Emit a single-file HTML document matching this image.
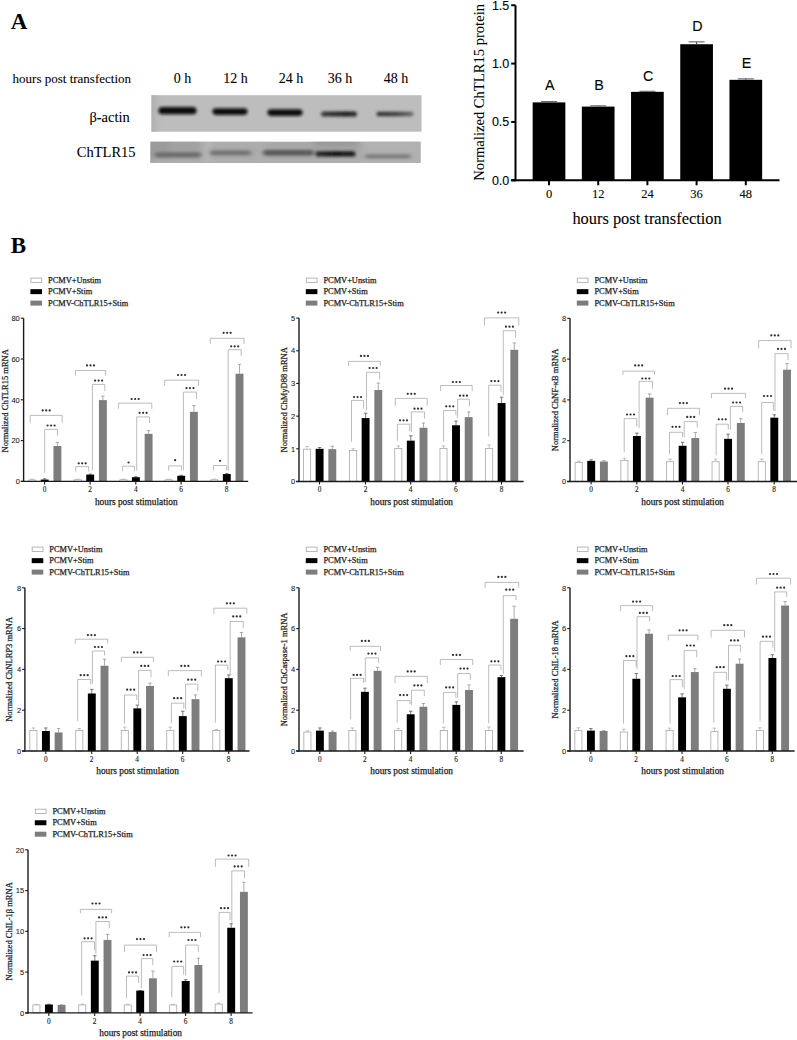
<!DOCTYPE html><html><head><meta charset="utf-8"><style>html,body{margin:0;padding:0;background:#fff;}body{width:797px;height:1040px;overflow:hidden;}svg{display:block;}</style></head><body><svg width="797" height="1040" viewBox="0 0 797 1040"><text x="10.8" y="28.6" font-family='"Liberation Serif", serif' font-size="23" text-anchor="start" font-weight="700" fill="#000">A</text><text x="10.8" y="252.6" font-family='"Liberation Serif", serif' font-size="23" text-anchor="start" font-weight="700" fill="#000">B</text><text x="12.6" y="83.3" font-family='"Liberation Serif", serif' font-size="13" text-anchor="start" font-weight="400" fill="#000" stroke="#000" stroke-width="0.08">hours post transfection</text><text x="182.4" y="83.3" font-family='"Liberation Serif", serif' font-size="14" text-anchor="middle" font-weight="400" fill="#000" stroke="#000" stroke-width="0.08">0 h</text><text x="235.5" y="83.3" font-family='"Liberation Serif", serif' font-size="14" text-anchor="middle" font-weight="400" fill="#000" stroke="#000" stroke-width="0.08">12 h</text><text x="291" y="83.3" font-family='"Liberation Serif", serif' font-size="14" text-anchor="middle" font-weight="400" fill="#000" stroke="#000" stroke-width="0.08">24 h</text><text x="340" y="83.3" font-family='"Liberation Serif", serif' font-size="14" text-anchor="middle" font-weight="400" fill="#000" stroke="#000" stroke-width="0.08">36 h</text><text x="396" y="83.3" font-family='"Liberation Serif", serif' font-size="14" text-anchor="middle" font-weight="400" fill="#000" stroke="#000" stroke-width="0.08">48 h</text><text x="129.8" y="122.4" font-family='"Liberation Serif", serif' font-size="14.5" text-anchor="end" font-weight="400" fill="#000" stroke="#000" stroke-width="0.08">&#946;-actin</text><text x="135.6" y="156.5" font-family='"Liberation Serif", serif' font-size="14.5" text-anchor="end" font-weight="400" fill="#000" stroke="#000" stroke-width="0.08">ChTLR15</text><defs><filter id="bl" x="-20%" y="-150%" width="140%" height="400%"><feGaussianBlur stdDeviation="1.5"/></filter><filter id="bl2" x="-50%" y="-50%" width="200%" height="200%"><feGaussianBlur stdDeviation="3"/></filter><filter id="bl3" x="-20%" y="-150%" width="140%" height="400%"><feGaussianBlur stdDeviation="2.1 1.7"/></filter><clipPath id="c1"><rect x="151.5" y="95.2" width="270" height="36.5"/></clipPath><clipPath id="c2"><rect x="150.5" y="141.7" width="270" height="21.2"/></clipPath><linearGradient id="g36" x1="0" x2="1"><stop offset="0" stop-color="#3a3a3a"/><stop offset="0.7" stop-color="#1a1a1a"/><stop offset="1" stop-color="#2a2a2a"/></linearGradient><linearGradient id="g48" x1="0" x2="1"><stop offset="0" stop-color="#2e2e2e"/><stop offset="0.5" stop-color="#3a3a3a"/><stop offset="1" stop-color="#6a6a6a"/></linearGradient><linearGradient id="t36" x1="0" x2="1"><stop offset="0" stop-color="#2a2a2a"/><stop offset="0.5" stop-color="#0e0e0e"/><stop offset="1" stop-color="#1c1c1c"/></linearGradient></defs><rect x="151.5" y="95.2" width="270" height="36.5" fill="#bdbdbd"/><g clip-path="url(#c1)"><g filter="url(#bl2)"><rect x="140" y="90" width="16" height="50" fill="#b0b0b0"/></g><g filter="url(#bl)"><rect x="158.5" y="107.1" width="38" height="7.2" rx="3.6" ry="3.6" fill="#0a0a0a"/><rect x="212.5" y="108.3" width="35" height="6.6" rx="3.3" ry="3.3" fill="#101010"/><rect x="267.5" y="109.3" width="35" height="6.6" rx="3.3" ry="3.3" fill="#101010"/><rect x="321" y="111.4" width="36" height="5.2" rx="2.6" ry="2.6" fill="url(#g36)"/><rect x="376.5" y="111.7" width="37" height="4.6" rx="2.3" ry="2.3" fill="url(#g48)"/></g></g><rect x="150.5" y="141.7" width="270" height="21.2" fill="#a8a8a8"/><g clip-path="url(#c2)"><g filter="url(#bl2)"><rect x="140" y="135" width="30" height="35" fill="#9b9b9b"/><rect x="170" y="135" width="30" height="35" fill="#a2a2a2"/><rect x="203" y="135" width="8" height="35" fill="#b6b6b6"/><rect x="211" y="141" width="50" height="5" fill="#b0b0b0"/><rect x="258" y="135" width="6" height="35" fill="#b0b0b0"/><rect x="314" y="135" width="44" height="11" fill="#959595"/><rect x="362" y="135" width="65" height="35" fill="#b1b1b1"/><rect x="150" y="159.5" width="275" height="10" fill="#b2b2b2"/></g><g filter="url(#bl3)"><rect x="155" y="152.2" width="46" height="5.2" rx="2.6" ry="2.6" fill="#6c6c6c"/><rect x="210" y="150.6" width="41" height="4.6" rx="2.3" ry="2.3" fill="#717171"/><rect x="263" y="150.1" width="51" height="5.4" rx="2.7" ry="2.7" fill="#585858"/><rect x="365" y="154.3" width="46" height="4.2" rx="2.1" ry="2.1" fill="#7a7a7a"/></g><g filter="url(#bl)"><rect x="315.5" y="151.3" width="40" height="5.2" rx="2.6" ry="2.6" fill="url(#t36)"/></g></g><line x1="515.5" y1="5.3" x2="515.5" y2="181.3" stroke="#000" stroke-width="2"/><line x1="511" y1="180.3" x2="779.5" y2="180.3" stroke="#000" stroke-width="2"/><line x1="511.2" y1="5.25" x2="515.5" y2="5.25" stroke="#000" stroke-width="2"/><text x="509.3" y="9.65" font-family='"Liberation Sans", sans-serif' font-size="12.5" text-anchor="end" font-weight="400" fill="#000" stroke="#000" stroke-width="0.08">1.5</text><line x1="511.2" y1="63.6" x2="515.5" y2="63.6" stroke="#000" stroke-width="2"/><text x="509.3" y="68" font-family='"Liberation Sans", sans-serif' font-size="12.5" text-anchor="end" font-weight="400" fill="#000" stroke="#000" stroke-width="0.08">1.0</text><line x1="511.2" y1="121.95" x2="515.5" y2="121.95" stroke="#000" stroke-width="2"/><text x="509.3" y="126.35" font-family='"Liberation Sans", sans-serif' font-size="12.5" text-anchor="end" font-weight="400" fill="#000" stroke="#000" stroke-width="0.08">0.5</text><line x1="511.2" y1="180.3" x2="515.5" y2="180.3" stroke="#000" stroke-width="2"/><text x="509.3" y="184.7" font-family='"Liberation Sans", sans-serif' font-size="12.5" text-anchor="end" font-weight="400" fill="#000" stroke="#000" stroke-width="0.08">0.0</text><rect x="532.65" y="102.4" width="32.7" height="77.9" fill="#000"/><line x1="549" y1="101.64" x2="549" y2="102.4" stroke="#444" stroke-width="1"/><line x1="541" y1="101.64" x2="557" y2="101.64" stroke="#555" stroke-width="1"/><line x1="549" y1="180.3" x2="549" y2="185.3" stroke="#000" stroke-width="2"/><text x="549.8" y="89.8" font-family='"Liberation Sans", sans-serif' font-size="14.3" text-anchor="middle" font-weight="400" fill="#000" stroke="#000" stroke-width="0.08">A</text><rect x="581.85" y="106.6" width="32.7" height="73.7" fill="#000"/><line x1="598.2" y1="105.85" x2="598.2" y2="106.6" stroke="#444" stroke-width="1"/><line x1="590.2" y1="105.85" x2="606.2" y2="105.85" stroke="#555" stroke-width="1"/><line x1="598.2" y1="180.3" x2="598.2" y2="185.3" stroke="#000" stroke-width="2"/><text x="599" y="90" font-family='"Liberation Sans", sans-serif' font-size="14.3" text-anchor="middle" font-weight="400" fill="#000" stroke="#000" stroke-width="0.08">B</text><rect x="631.05" y="91.84" width="32.7" height="88.46" fill="#000"/><line x1="647.4" y1="91.26" x2="647.4" y2="91.84" stroke="#444" stroke-width="1"/><line x1="639.4" y1="91.26" x2="655.4" y2="91.26" stroke="#555" stroke-width="1"/><line x1="647.4" y1="180.3" x2="647.4" y2="185.3" stroke="#000" stroke-width="2"/><text x="648.2" y="80.5" font-family='"Liberation Sans", sans-serif' font-size="14.3" text-anchor="middle" font-weight="400" fill="#000" stroke="#000" stroke-width="0.08">C</text><rect x="680.25" y="44.23" width="32.7" height="136.07" fill="#000"/><line x1="696.6" y1="41.89" x2="696.6" y2="44.23" stroke="#444" stroke-width="1"/><line x1="688.6" y1="41.89" x2="704.6" y2="41.89" stroke="#555" stroke-width="1"/><line x1="696.6" y1="180.3" x2="696.6" y2="185.3" stroke="#000" stroke-width="2"/><text x="697.4" y="30.8" font-family='"Liberation Sans", sans-serif' font-size="14.3" text-anchor="middle" font-weight="400" fill="#000" stroke="#000" stroke-width="0.08">D</text><rect x="729.45" y="79.82" width="32.7" height="100.48" fill="#000"/><line x1="745.8" y1="78.89" x2="745.8" y2="79.82" stroke="#444" stroke-width="1"/><line x1="737.8" y1="78.89" x2="753.8" y2="78.89" stroke="#555" stroke-width="1"/><line x1="745.8" y1="180.3" x2="745.8" y2="185.3" stroke="#000" stroke-width="2"/><text x="746.6" y="67.9" font-family='"Liberation Sans", sans-serif' font-size="14.3" text-anchor="middle" font-weight="400" fill="#000" stroke="#000" stroke-width="0.08">E</text><text x="549" y="198.4" font-family='"Liberation Serif", serif' font-size="12.5" text-anchor="middle" font-weight="400" fill="#000" stroke="#000" stroke-width="0.08">0</text><text x="598.2" y="198.4" font-family='"Liberation Serif", serif' font-size="12.5" text-anchor="middle" font-weight="400" fill="#000" stroke="#000" stroke-width="0.08">12</text><text x="647.4" y="198.4" font-family='"Liberation Serif", serif' font-size="12.5" text-anchor="middle" font-weight="400" fill="#000" stroke="#000" stroke-width="0.08">24</text><text x="696.6" y="198.4" font-family='"Liberation Serif", serif' font-size="12.5" text-anchor="middle" font-weight="400" fill="#000" stroke="#000" stroke-width="0.08">36</text><text x="745.8" y="198.4" font-family='"Liberation Serif", serif' font-size="12.5" text-anchor="middle" font-weight="400" fill="#000" stroke="#000" stroke-width="0.08">48</text><text x="572.4" y="223.8" font-family='"Liberation Serif", serif' font-size="16.4" text-anchor="start" font-weight="400" fill="#000" stroke="#000" stroke-width="0.08">hours post transfection</text><text x="483.8" y="180.7" font-family='"Liberation Serif", serif' font-size="14.6" text-anchor="start" font-weight="400" fill="#000" stroke="#000" stroke-width="0.08" transform="rotate(-90 483.8 180.7)">Normalized ChTLR15 protein</text><rect x="30.9" y="278.1" width="10.8" height="4.3" fill="#fff" stroke="#b0b0b0" stroke-width="0.9"/><text x="48" y="282.7" font-family='"Liberation Serif", serif' font-size="8.4" text-anchor="start" font-weight="400" fill="#1e1e1e" stroke="#1e1e1e" stroke-width="0.25">PCMV+Unstim</text><rect x="30.4" y="289.15" width="11.6" height="5" fill="#000"/><text x="48" y="294.15" font-family='"Liberation Serif", serif' font-size="8.4" text-anchor="start" font-weight="400" fill="#1e1e1e" stroke="#1e1e1e" stroke-width="0.25">PCMV+Stim</text><rect x="30.4" y="300.6" width="11.6" height="5" fill="#7d7d7d"/><text x="48" y="305.6" font-family='"Liberation Serif", serif' font-size="8.4" text-anchor="start" font-weight="400" fill="#1e1e1e" stroke="#1e1e1e" stroke-width="0.25">PCMV-ChTLR15+Stim</text><line x1="32.2" y1="479.16" x2="32.2" y2="479.56" stroke="#9a9a9a" stroke-width="0.6"/><line x1="30.5" y1="479.16" x2="33.9" y2="479.16" stroke="#9a9a9a" stroke-width="0.6"/><rect x="28.65" y="479.96" width="7.1" height="1.44" fill="#fff" stroke="#a8a8a8" stroke-width="0.8"/><line x1="44.7" y1="478.75" x2="44.7" y2="479.56" stroke="#444" stroke-width="0.7"/><line x1="43" y1="478.75" x2="46.4" y2="478.75" stroke="#444" stroke-width="0.7"/><rect x="40.75" y="479.56" width="7.9" height="1.84" fill="#000"/><line x1="57.4" y1="442.44" x2="57.4" y2="446.01" stroke="#8a8a8a" stroke-width="0.7"/><line x1="55.7" y1="442.44" x2="59.1" y2="442.44" stroke="#8a8a8a" stroke-width="0.7"/><rect x="53.45" y="446.01" width="7.9" height="35.39" fill="#7d7d7d"/><path d="M44.7 472.7V429.4H57.5V435.5" fill="none" stroke="#999999" stroke-width="0.65"/><circle cx="47.6" cy="425.5" r="1.12" fill="#303030"/><circle cx="51.1" cy="425.5" r="1.12" fill="#303030"/><circle cx="54.6" cy="425.5" r="1.12" fill="#303030"/><path d="M30.2 422.9V415.4H62.2V422.9" fill="none" stroke="#999999" stroke-width="0.65"/><circle cx="42.7" cy="410.4" r="1.12" fill="#303030"/><circle cx="46.2" cy="410.4" r="1.12" fill="#303030"/><circle cx="49.7" cy="410.4" r="1.12" fill="#303030"/><line x1="77.7" y1="479.16" x2="77.7" y2="479.36" stroke="#9a9a9a" stroke-width="0.6"/><line x1="76" y1="479.16" x2="79.4" y2="479.16" stroke="#9a9a9a" stroke-width="0.6"/><rect x="74.15" y="479.76" width="7.1" height="1.64" fill="#fff" stroke="#a8a8a8" stroke-width="0.8"/><line x1="90.2" y1="474.06" x2="90.2" y2="474.61" stroke="#444" stroke-width="0.7"/><line x1="88.5" y1="474.06" x2="91.9" y2="474.06" stroke="#444" stroke-width="0.7"/><rect x="86.25" y="474.61" width="7.9" height="6.79" fill="#000"/><line x1="102.9" y1="396.13" x2="102.9" y2="400.11" stroke="#8a8a8a" stroke-width="0.7"/><line x1="101.2" y1="396.13" x2="104.6" y2="396.13" stroke="#8a8a8a" stroke-width="0.7"/><rect x="98.95" y="400.11" width="7.9" height="81.29" fill="#7d7d7d"/><path d="M75.7 471.5V466.6H88.7V471.5" fill="none" stroke="#999999" stroke-width="0.65"/><circle cx="78.7" cy="463.3" r="1.12" fill="#303030"/><circle cx="82.2" cy="463.3" r="1.12" fill="#303030"/><circle cx="85.7" cy="463.3" r="1.12" fill="#303030"/><path d="M92.4 470.6V384.4H104.8V391" fill="none" stroke="#999999" stroke-width="0.65"/><circle cx="95.1" cy="380.6" r="1.12" fill="#303030"/><circle cx="98.6" cy="380.6" r="1.12" fill="#303030"/><circle cx="102.1" cy="380.6" r="1.12" fill="#303030"/><path d="M75.4 375.7V370.5H105.7V375.7" fill="none" stroke="#999999" stroke-width="0.65"/><circle cx="87.05" cy="365.4" r="1.12" fill="#303030"/><circle cx="90.55" cy="365.4" r="1.12" fill="#303030"/><circle cx="94.05" cy="365.4" r="1.12" fill="#303030"/><line x1="123.4" y1="479.16" x2="123.4" y2="479.36" stroke="#9a9a9a" stroke-width="0.6"/><line x1="121.7" y1="479.16" x2="125.1" y2="479.16" stroke="#9a9a9a" stroke-width="0.6"/><rect x="119.85" y="479.76" width="7.1" height="1.64" fill="#fff" stroke="#a8a8a8" stroke-width="0.8"/><line x1="135.9" y1="476.71" x2="135.9" y2="477.2" stroke="#444" stroke-width="0.7"/><line x1="134.2" y1="476.71" x2="137.6" y2="476.71" stroke="#444" stroke-width="0.7"/><rect x="131.95" y="477.2" width="7.9" height="4.2" fill="#000"/><line x1="148.6" y1="430.6" x2="148.6" y2="433.87" stroke="#8a8a8a" stroke-width="0.7"/><line x1="146.9" y1="430.6" x2="150.3" y2="430.6" stroke="#8a8a8a" stroke-width="0.7"/><rect x="144.65" y="433.87" width="7.9" height="47.53" fill="#7d7d7d"/><path d="M122.6 471.1V466.2H134.5V471.1" fill="none" stroke="#999999" stroke-width="0.65"/><circle cx="128.55" cy="462.5" r="1.12" fill="#303030"/><path d="M136.7 470.6V416.9H149.5V423.1" fill="none" stroke="#999999" stroke-width="0.65"/><circle cx="139.6" cy="412.8" r="1.12" fill="#303030"/><circle cx="143.1" cy="412.8" r="1.12" fill="#303030"/><circle cx="146.6" cy="412.8" r="1.12" fill="#303030"/><path d="M118.5 408.8V403.2H151.8V408.8" fill="none" stroke="#999999" stroke-width="0.65"/><circle cx="131.65" cy="399" r="1.12" fill="#303030"/><circle cx="135.15" cy="399" r="1.12" fill="#303030"/><circle cx="138.65" cy="399" r="1.12" fill="#303030"/><line x1="168.7" y1="479.16" x2="168.7" y2="479.36" stroke="#9a9a9a" stroke-width="0.6"/><line x1="167" y1="479.16" x2="170.4" y2="479.16" stroke="#9a9a9a" stroke-width="0.6"/><rect x="165.15" y="479.76" width="7.1" height="1.64" fill="#fff" stroke="#a8a8a8" stroke-width="0.8"/><line x1="181.2" y1="475.28" x2="181.2" y2="475.79" stroke="#444" stroke-width="0.7"/><line x1="179.5" y1="475.28" x2="182.9" y2="475.28" stroke="#444" stroke-width="0.7"/><rect x="177.25" y="475.79" width="7.9" height="5.61" fill="#000"/><line x1="193.9" y1="405.51" x2="193.9" y2="411.84" stroke="#8a8a8a" stroke-width="0.7"/><line x1="192.2" y1="405.51" x2="195.6" y2="405.51" stroke="#8a8a8a" stroke-width="0.7"/><rect x="189.95" y="411.84" width="7.9" height="69.56" fill="#7d7d7d"/><path d="M168.7 470.5V465.9H181.5V470.5" fill="none" stroke="#999999" stroke-width="0.65"/><circle cx="175.1" cy="460.2" r="1.12" fill="#303030"/><path d="M183.4 470.5V392.1H196.6V399" fill="none" stroke="#999999" stroke-width="0.65"/><circle cx="186.5" cy="388.1" r="1.12" fill="#303030"/><circle cx="190" cy="388.1" r="1.12" fill="#303030"/><circle cx="193.5" cy="388.1" r="1.12" fill="#303030"/><path d="M164.6 385.9V380.2H198.5V385.9" fill="none" stroke="#999999" stroke-width="0.65"/><circle cx="178.05" cy="375" r="1.12" fill="#303030"/><circle cx="181.55" cy="375" r="1.12" fill="#303030"/><circle cx="185.05" cy="375" r="1.12" fill="#303030"/><line x1="214.3" y1="479.16" x2="214.3" y2="479.36" stroke="#9a9a9a" stroke-width="0.6"/><line x1="212.6" y1="479.16" x2="216" y2="479.16" stroke="#9a9a9a" stroke-width="0.6"/><rect x="210.75" y="479.76" width="7.1" height="1.64" fill="#fff" stroke="#a8a8a8" stroke-width="0.8"/><line x1="226.8" y1="473.44" x2="226.8" y2="474.06" stroke="#444" stroke-width="0.7"/><line x1="225.1" y1="473.44" x2="228.5" y2="473.44" stroke="#444" stroke-width="0.7"/><rect x="222.85" y="474.06" width="7.9" height="7.34" fill="#000"/><line x1="239.5" y1="364.3" x2="239.5" y2="373.69" stroke="#8a8a8a" stroke-width="0.7"/><line x1="237.8" y1="364.3" x2="241.2" y2="364.3" stroke="#8a8a8a" stroke-width="0.7"/><rect x="235.55" y="373.69" width="7.9" height="107.71" fill="#7d7d7d"/><path d="M213.5 470.5V465.5H226.7V470.5" fill="none" stroke="#999999" stroke-width="0.65"/><circle cx="220.1" cy="460.8" r="1.12" fill="#303030"/><path d="M228.2 470.6V349.7H241.2V355.8" fill="none" stroke="#999999" stroke-width="0.65"/><circle cx="231.2" cy="346.3" r="1.12" fill="#303030"/><circle cx="234.7" cy="346.3" r="1.12" fill="#303030"/><circle cx="238.2" cy="346.3" r="1.12" fill="#303030"/><path d="M210.3 343.9V338.3H244V343.9" fill="none" stroke="#999999" stroke-width="0.65"/><circle cx="223.65" cy="332.8" r="1.12" fill="#303030"/><circle cx="227.15" cy="332.8" r="1.12" fill="#303030"/><circle cx="230.65" cy="332.8" r="1.12" fill="#303030"/><line x1="23.6" y1="318.2" x2="23.6" y2="482" stroke="#1a1a1a" stroke-width="1.4"/><line x1="20.8" y1="481.4" x2="248.2" y2="481.4" stroke="#1a1a1a" stroke-width="1.3"/><line x1="20.8" y1="481.4" x2="23.6" y2="481.4" stroke="#1a1a1a" stroke-width="1.1"/><text x="19.8" y="484.1" font-family='"Liberation Sans", sans-serif' font-size="7.5" text-anchor="end" font-weight="400" fill="#222" stroke="#222" stroke-width="0.08">0</text><line x1="20.8" y1="440.6" x2="23.6" y2="440.6" stroke="#1a1a1a" stroke-width="1.1"/><text x="19.8" y="443.3" font-family='"Liberation Sans", sans-serif' font-size="7.5" text-anchor="end" font-weight="400" fill="#222" stroke="#222" stroke-width="0.08">20</text><line x1="20.8" y1="399.8" x2="23.6" y2="399.8" stroke="#1a1a1a" stroke-width="1.1"/><text x="19.8" y="402.5" font-family='"Liberation Sans", sans-serif' font-size="7.5" text-anchor="end" font-weight="400" fill="#222" stroke="#222" stroke-width="0.08">40</text><line x1="20.8" y1="359" x2="23.6" y2="359" stroke="#1a1a1a" stroke-width="1.1"/><text x="19.8" y="361.7" font-family='"Liberation Sans", sans-serif' font-size="7.5" text-anchor="end" font-weight="400" fill="#222" stroke="#222" stroke-width="0.08">60</text><line x1="20.8" y1="318.2" x2="23.6" y2="318.2" stroke="#1a1a1a" stroke-width="1.1"/><text x="19.8" y="320.9" font-family='"Liberation Sans", sans-serif' font-size="7.5" text-anchor="end" font-weight="400" fill="#222" stroke="#222" stroke-width="0.08">80</text><line x1="44.6" y1="481.4" x2="44.6" y2="484.4" stroke="#1a1a1a" stroke-width="1.1"/><text x="44.6" y="492.2" font-family='"Liberation Serif", serif' font-size="7.3" text-anchor="middle" font-weight="400" fill="#222" stroke="#222" stroke-width="0.12">0</text><line x1="90.1" y1="481.4" x2="90.1" y2="484.4" stroke="#1a1a1a" stroke-width="1.1"/><text x="90.1" y="492.2" font-family='"Liberation Serif", serif' font-size="7.3" text-anchor="middle" font-weight="400" fill="#222" stroke="#222" stroke-width="0.12">2</text><line x1="135.8" y1="481.4" x2="135.8" y2="484.4" stroke="#1a1a1a" stroke-width="1.1"/><text x="135.8" y="492.2" font-family='"Liberation Serif", serif' font-size="7.3" text-anchor="middle" font-weight="400" fill="#222" stroke="#222" stroke-width="0.12">4</text><line x1="181.1" y1="481.4" x2="181.1" y2="484.4" stroke="#1a1a1a" stroke-width="1.1"/><text x="181.1" y="492.2" font-family='"Liberation Serif", serif' font-size="7.3" text-anchor="middle" font-weight="400" fill="#222" stroke="#222" stroke-width="0.12">6</text><line x1="226.7" y1="481.4" x2="226.7" y2="484.4" stroke="#1a1a1a" stroke-width="1.1"/><text x="226.7" y="492.2" font-family='"Liberation Serif", serif' font-size="7.3" text-anchor="middle" font-weight="400" fill="#222" stroke="#222" stroke-width="0.12">8</text><text x="136.3" y="504.5" font-family='"Liberation Serif", serif' font-size="9.3" text-anchor="middle" font-weight="400" fill="#222" stroke="#222" stroke-width="0.25">hours post stimulation</text><text x="8" y="400.8" font-family='"Liberation Serif", serif' font-size="8.5" text-anchor="middle" font-weight="400" fill="#222" stroke="#222" stroke-width="0.25" transform="rotate(-90 8 400.8)">Normalized ChTLR15 mRNA</text><rect x="306.3" y="278.1" width="10.8" height="4.3" fill="#fff" stroke="#b0b0b0" stroke-width="0.9"/><text x="323.4" y="282.7" font-family='"Liberation Serif", serif' font-size="8.4" text-anchor="start" font-weight="400" fill="#1e1e1e" stroke="#1e1e1e" stroke-width="0.25">PCMV+Unstim</text><rect x="305.8" y="289.15" width="11.6" height="5" fill="#000"/><text x="323.4" y="294.15" font-family='"Liberation Serif", serif' font-size="8.4" text-anchor="start" font-weight="400" fill="#1e1e1e" stroke="#1e1e1e" stroke-width="0.25">PCMV+Stim</text><rect x="305.8" y="300.6" width="11.6" height="5" fill="#7d7d7d"/><text x="323.4" y="305.6" font-family='"Liberation Serif", serif' font-size="8.4" text-anchor="start" font-weight="400" fill="#1e1e1e" stroke="#1e1e1e" stroke-width="0.25">PCMV-ChTLR15+Stim</text><line x1="307.1" y1="446.53" x2="307.1" y2="448.82" stroke="#9a9a9a" stroke-width="0.6"/><line x1="305.4" y1="446.53" x2="308.8" y2="446.53" stroke="#9a9a9a" stroke-width="0.6"/><rect x="303.55" y="449.22" width="7.1" height="32.28" fill="#fff" stroke="#a8a8a8" stroke-width="0.8"/><line x1="319.6" y1="447.51" x2="319.6" y2="448.82" stroke="#444" stroke-width="0.7"/><line x1="317.9" y1="447.51" x2="321.3" y2="447.51" stroke="#444" stroke-width="0.7"/><rect x="315.65" y="448.82" width="7.9" height="32.68" fill="#000"/><line x1="332.3" y1="446.21" x2="332.3" y2="449.15" stroke="#8a8a8a" stroke-width="0.7"/><line x1="330.6" y1="446.21" x2="334" y2="446.21" stroke="#8a8a8a" stroke-width="0.7"/><rect x="328.35" y="449.15" width="7.9" height="32.35" fill="#7d7d7d"/><line x1="353.1" y1="448.82" x2="353.1" y2="450.13" stroke="#9a9a9a" stroke-width="0.6"/><line x1="351.4" y1="448.82" x2="354.8" y2="448.82" stroke="#9a9a9a" stroke-width="0.6"/><rect x="349.55" y="450.53" width="7.1" height="30.97" fill="#fff" stroke="#a8a8a8" stroke-width="0.8"/><line x1="365.6" y1="413.2" x2="365.6" y2="418.1" stroke="#444" stroke-width="0.7"/><line x1="363.9" y1="413.2" x2="367.3" y2="413.2" stroke="#444" stroke-width="0.7"/><rect x="361.65" y="418.1" width="7.9" height="63.4" fill="#000"/><line x1="378.3" y1="383.13" x2="378.3" y2="390" stroke="#8a8a8a" stroke-width="0.7"/><line x1="376.6" y1="383.13" x2="380" y2="383.13" stroke="#8a8a8a" stroke-width="0.7"/><rect x="374.35" y="390" width="7.9" height="91.5" fill="#7d7d7d"/><path d="M351.5 441.6V400.4H363.6V408.7" fill="none" stroke="#999999" stroke-width="0.65"/><circle cx="354.05" cy="397" r="1.12" fill="#303030"/><circle cx="357.55" cy="397" r="1.12" fill="#303030"/><circle cx="361.05" cy="397" r="1.12" fill="#303030"/><path d="M366.5 410.4V372.3H379.7V379.3" fill="none" stroke="#999999" stroke-width="0.65"/><circle cx="369.6" cy="368" r="1.12" fill="#303030"/><circle cx="373.1" cy="368" r="1.12" fill="#303030"/><circle cx="376.6" cy="368" r="1.12" fill="#303030"/><path d="M348.5 365.8V361.4H380.4V365.8" fill="none" stroke="#999999" stroke-width="0.65"/><circle cx="360.95" cy="355.9" r="1.12" fill="#303030"/><circle cx="364.45" cy="355.9" r="1.12" fill="#303030"/><circle cx="367.95" cy="355.9" r="1.12" fill="#303030"/><line x1="398.3" y1="445.88" x2="398.3" y2="448.17" stroke="#9a9a9a" stroke-width="0.6"/><line x1="396.6" y1="445.88" x2="400" y2="445.88" stroke="#9a9a9a" stroke-width="0.6"/><rect x="394.75" y="448.57" width="7.1" height="32.93" fill="#fff" stroke="#a8a8a8" stroke-width="0.8"/><line x1="410.8" y1="435.75" x2="410.8" y2="440.65" stroke="#444" stroke-width="0.7"/><line x1="409.1" y1="435.75" x2="412.5" y2="435.75" stroke="#444" stroke-width="0.7"/><rect x="406.85" y="440.65" width="7.9" height="40.85" fill="#000"/><line x1="423.5" y1="423" x2="423.5" y2="427.74" stroke="#8a8a8a" stroke-width="0.7"/><line x1="421.8" y1="423" x2="425.2" y2="423" stroke="#8a8a8a" stroke-width="0.7"/><rect x="419.55" y="427.74" width="7.9" height="53.76" fill="#7d7d7d"/><path d="M397.4 440.9V424.2H409.7V431.2" fill="none" stroke="#999999" stroke-width="0.65"/><circle cx="400.05" cy="420.3" r="1.12" fill="#303030"/><circle cx="403.55" cy="420.3" r="1.12" fill="#303030"/><circle cx="407.05" cy="420.3" r="1.12" fill="#303030"/><path d="M411.4 432V411.9H424.6V418.6" fill="none" stroke="#999999" stroke-width="0.65"/><circle cx="414.5" cy="408.7" r="1.12" fill="#303030"/><circle cx="418" cy="408.7" r="1.12" fill="#303030"/><circle cx="421.5" cy="408.7" r="1.12" fill="#303030"/><path d="M395.3 405.7V398.4H427.2V405.7" fill="none" stroke="#999999" stroke-width="0.65"/><circle cx="407.75" cy="393.8" r="1.12" fill="#303030"/><circle cx="411.25" cy="393.8" r="1.12" fill="#303030"/><circle cx="414.75" cy="393.8" r="1.12" fill="#303030"/><line x1="443.5" y1="445.88" x2="443.5" y2="448.17" stroke="#9a9a9a" stroke-width="0.6"/><line x1="441.8" y1="445.88" x2="445.2" y2="445.88" stroke="#9a9a9a" stroke-width="0.6"/><rect x="439.95" y="448.57" width="7.1" height="32.93" fill="#fff" stroke="#a8a8a8" stroke-width="0.8"/><line x1="456" y1="421.04" x2="456" y2="425.29" stroke="#444" stroke-width="0.7"/><line x1="454.3" y1="421.04" x2="457.7" y2="421.04" stroke="#444" stroke-width="0.7"/><rect x="452.05" y="425.29" width="7.9" height="56.21" fill="#000"/><line x1="468.7" y1="411.89" x2="468.7" y2="417.12" stroke="#8a8a8a" stroke-width="0.7"/><line x1="467" y1="411.89" x2="470.4" y2="411.89" stroke="#8a8a8a" stroke-width="0.7"/><rect x="464.75" y="417.12" width="7.9" height="64.38" fill="#7d7d7d"/><path d="M443.6 441.7V410.5H455.9V415.4" fill="none" stroke="#999999" stroke-width="0.65"/><circle cx="446.25" cy="406.3" r="1.12" fill="#303030"/><circle cx="449.75" cy="406.3" r="1.12" fill="#303030"/><circle cx="453.25" cy="406.3" r="1.12" fill="#303030"/><path d="M457.6 418V399.2H469.4V406.3" fill="none" stroke="#999999" stroke-width="0.65"/><circle cx="460" cy="395.7" r="1.12" fill="#303030"/><circle cx="463.5" cy="395.7" r="1.12" fill="#303030"/><circle cx="467" cy="395.7" r="1.12" fill="#303030"/><path d="M440.6 391.2V385.5H472.2V391.2" fill="none" stroke="#999999" stroke-width="0.65"/><circle cx="452.9" cy="382" r="1.12" fill="#303030"/><circle cx="456.4" cy="382" r="1.12" fill="#303030"/><circle cx="459.9" cy="382" r="1.12" fill="#303030"/><line x1="489.1" y1="444.9" x2="489.1" y2="448.17" stroke="#9a9a9a" stroke-width="0.6"/><line x1="487.4" y1="444.9" x2="490.8" y2="444.9" stroke="#9a9a9a" stroke-width="0.6"/><rect x="485.55" y="448.57" width="7.1" height="32.93" fill="#fff" stroke="#a8a8a8" stroke-width="0.8"/><line x1="501.6" y1="397.19" x2="501.6" y2="403.07" stroke="#444" stroke-width="0.7"/><line x1="499.9" y1="397.19" x2="503.3" y2="397.19" stroke="#444" stroke-width="0.7"/><rect x="497.65" y="403.07" width="7.9" height="78.43" fill="#000"/><line x1="514.3" y1="342.94" x2="514.3" y2="349.8" stroke="#8a8a8a" stroke-width="0.7"/><line x1="512.6" y1="342.94" x2="516" y2="342.94" stroke="#8a8a8a" stroke-width="0.7"/><rect x="510.35" y="349.8" width="7.9" height="131.7" fill="#7d7d7d"/><path d="M488.7 436.5V385.2H501V391.7" fill="none" stroke="#999999" stroke-width="0.65"/><circle cx="491.35" cy="381.1" r="1.12" fill="#303030"/><circle cx="494.85" cy="381.1" r="1.12" fill="#303030"/><circle cx="498.35" cy="381.1" r="1.12" fill="#303030"/><path d="M503.3 395.2V330.7H515.6V337.8" fill="none" stroke="#999999" stroke-width="0.65"/><circle cx="505.95" cy="326.7" r="1.12" fill="#303030"/><circle cx="509.45" cy="326.7" r="1.12" fill="#303030"/><circle cx="512.95" cy="326.7" r="1.12" fill="#303030"/><path d="M484.5 325.5V317.9H518.8V325.5" fill="none" stroke="#999999" stroke-width="0.65"/><circle cx="498.15" cy="312.6" r="1.12" fill="#303030"/><circle cx="501.65" cy="312.6" r="1.12" fill="#303030"/><circle cx="505.15" cy="312.6" r="1.12" fill="#303030"/><line x1="299" y1="318.1" x2="299" y2="482.1" stroke="#1a1a1a" stroke-width="1.4"/><line x1="296.2" y1="481.5" x2="523.6" y2="481.5" stroke="#1a1a1a" stroke-width="1.3"/><line x1="296.2" y1="481.5" x2="299" y2="481.5" stroke="#1a1a1a" stroke-width="1.1"/><text x="295.2" y="484.2" font-family='"Liberation Sans", sans-serif' font-size="7.5" text-anchor="end" font-weight="400" fill="#222" stroke="#222" stroke-width="0.08">0</text><line x1="296.2" y1="448.82" x2="299" y2="448.82" stroke="#1a1a1a" stroke-width="1.1"/><text x="295.2" y="451.52" font-family='"Liberation Sans", sans-serif' font-size="7.5" text-anchor="end" font-weight="400" fill="#222" stroke="#222" stroke-width="0.08">1</text><line x1="296.2" y1="416.14" x2="299" y2="416.14" stroke="#1a1a1a" stroke-width="1.1"/><text x="295.2" y="418.84" font-family='"Liberation Sans", sans-serif' font-size="7.5" text-anchor="end" font-weight="400" fill="#222" stroke="#222" stroke-width="0.08">2</text><line x1="296.2" y1="383.46" x2="299" y2="383.46" stroke="#1a1a1a" stroke-width="1.1"/><text x="295.2" y="386.16" font-family='"Liberation Sans", sans-serif' font-size="7.5" text-anchor="end" font-weight="400" fill="#222" stroke="#222" stroke-width="0.08">3</text><line x1="296.2" y1="350.78" x2="299" y2="350.78" stroke="#1a1a1a" stroke-width="1.1"/><text x="295.2" y="353.48" font-family='"Liberation Sans", sans-serif' font-size="7.5" text-anchor="end" font-weight="400" fill="#222" stroke="#222" stroke-width="0.08">4</text><line x1="296.2" y1="318.1" x2="299" y2="318.1" stroke="#1a1a1a" stroke-width="1.1"/><text x="295.2" y="320.8" font-family='"Liberation Sans", sans-serif' font-size="7.5" text-anchor="end" font-weight="400" fill="#222" stroke="#222" stroke-width="0.08">5</text><line x1="319.5" y1="481.5" x2="319.5" y2="484.5" stroke="#1a1a1a" stroke-width="1.1"/><text x="319.5" y="492.3" font-family='"Liberation Serif", serif' font-size="7.3" text-anchor="middle" font-weight="400" fill="#222" stroke="#222" stroke-width="0.12">0</text><line x1="365.5" y1="481.5" x2="365.5" y2="484.5" stroke="#1a1a1a" stroke-width="1.1"/><text x="365.5" y="492.3" font-family='"Liberation Serif", serif' font-size="7.3" text-anchor="middle" font-weight="400" fill="#222" stroke="#222" stroke-width="0.12">2</text><line x1="410.7" y1="481.5" x2="410.7" y2="484.5" stroke="#1a1a1a" stroke-width="1.1"/><text x="410.7" y="492.3" font-family='"Liberation Serif", serif' font-size="7.3" text-anchor="middle" font-weight="400" fill="#222" stroke="#222" stroke-width="0.12">4</text><line x1="455.9" y1="481.5" x2="455.9" y2="484.5" stroke="#1a1a1a" stroke-width="1.1"/><text x="455.9" y="492.3" font-family='"Liberation Serif", serif' font-size="7.3" text-anchor="middle" font-weight="400" fill="#222" stroke="#222" stroke-width="0.12">6</text><line x1="501.5" y1="481.5" x2="501.5" y2="484.5" stroke="#1a1a1a" stroke-width="1.1"/><text x="501.5" y="492.3" font-family='"Liberation Serif", serif' font-size="7.3" text-anchor="middle" font-weight="400" fill="#222" stroke="#222" stroke-width="0.12">8</text><text x="411.7" y="504.6" font-family='"Liberation Serif", serif' font-size="9.3" text-anchor="middle" font-weight="400" fill="#222" stroke="#222" stroke-width="0.25">hours post stimulation</text><text x="286.6" y="399.8" font-family='"Liberation Serif", serif' font-size="8.5" text-anchor="middle" font-weight="400" fill="#222" stroke="#222" stroke-width="0.25" transform="rotate(-90 286.6 399.8)">Normalized ChMyD88 mRNA</text><rect x="577.3" y="278.1" width="10.8" height="4.3" fill="#fff" stroke="#b0b0b0" stroke-width="0.9"/><text x="594.4" y="282.7" font-family='"Liberation Serif", serif' font-size="8.4" text-anchor="start" font-weight="400" fill="#1e1e1e" stroke="#1e1e1e" stroke-width="0.25">PCMV+Unstim</text><rect x="576.8" y="289.15" width="11.6" height="5" fill="#000"/><text x="594.4" y="294.15" font-family='"Liberation Serif", serif' font-size="8.4" text-anchor="start" font-weight="400" fill="#1e1e1e" stroke="#1e1e1e" stroke-width="0.25">PCMV+Stim</text><rect x="576.8" y="300.6" width="11.6" height="5" fill="#7d7d7d"/><text x="594.4" y="305.6" font-family='"Liberation Serif", serif' font-size="8.4" text-anchor="start" font-weight="400" fill="#1e1e1e" stroke="#1e1e1e" stroke-width="0.25">PCMV-ChTLR15+Stim</text><line x1="578.7" y1="461.3" x2="578.7" y2="461.92" stroke="#9a9a9a" stroke-width="0.6"/><line x1="577" y1="461.3" x2="580.4" y2="461.3" stroke="#9a9a9a" stroke-width="0.6"/><rect x="575.15" y="462.32" width="7.1" height="19.18" fill="#fff" stroke="#a8a8a8" stroke-width="0.8"/><line x1="591.2" y1="459.88" x2="591.2" y2="460.9" stroke="#444" stroke-width="0.7"/><line x1="589.5" y1="459.88" x2="592.9" y2="459.88" stroke="#444" stroke-width="0.7"/><rect x="587.25" y="460.9" width="7.9" height="20.6" fill="#000"/><line x1="603.9" y1="460.49" x2="603.9" y2="461.51" stroke="#8a8a8a" stroke-width="0.7"/><line x1="602.2" y1="460.49" x2="605.6" y2="460.49" stroke="#8a8a8a" stroke-width="0.7"/><rect x="599.95" y="461.51" width="7.9" height="19.99" fill="#7d7d7d"/><line x1="624.4" y1="458.24" x2="624.4" y2="460.08" stroke="#9a9a9a" stroke-width="0.6"/><line x1="622.7" y1="458.24" x2="626.1" y2="458.24" stroke="#9a9a9a" stroke-width="0.6"/><rect x="620.85" y="460.48" width="7.1" height="21.02" fill="#fff" stroke="#a8a8a8" stroke-width="0.8"/><line x1="636.9" y1="433.15" x2="636.9" y2="436.01" stroke="#444" stroke-width="0.7"/><line x1="635.2" y1="433.15" x2="638.6" y2="433.15" stroke="#444" stroke-width="0.7"/><rect x="632.95" y="436.01" width="7.9" height="45.49" fill="#000"/><line x1="649.6" y1="393.98" x2="649.6" y2="397.66" stroke="#8a8a8a" stroke-width="0.7"/><line x1="647.9" y1="393.98" x2="651.3" y2="393.98" stroke="#8a8a8a" stroke-width="0.7"/><rect x="645.65" y="397.66" width="7.9" height="83.84" fill="#7d7d7d"/><path d="M624.2 452.4V418.6H636.8V426.3" fill="none" stroke="#999999" stroke-width="0.65"/><circle cx="627" cy="414.5" r="1.12" fill="#303030"/><circle cx="630.5" cy="414.5" r="1.12" fill="#303030"/><circle cx="634" cy="414.5" r="1.12" fill="#303030"/><path d="M639.1 427.9V381.3H652.5V388.7" fill="none" stroke="#999999" stroke-width="0.65"/><circle cx="642.3" cy="378.5" r="1.12" fill="#303030"/><circle cx="645.8" cy="378.5" r="1.12" fill="#303030"/><circle cx="649.3" cy="378.5" r="1.12" fill="#303030"/><path d="M622.9 374.8V371.2H654.5V374.8" fill="none" stroke="#999999" stroke-width="0.65"/><circle cx="635.2" cy="365.4" r="1.12" fill="#303030"/><circle cx="638.7" cy="365.4" r="1.12" fill="#303030"/><circle cx="642.2" cy="365.4" r="1.12" fill="#303030"/><line x1="670.1" y1="459.06" x2="670.1" y2="461.3" stroke="#9a9a9a" stroke-width="0.6"/><line x1="668.4" y1="459.06" x2="671.8" y2="459.06" stroke="#9a9a9a" stroke-width="0.6"/><rect x="666.55" y="461.7" width="7.1" height="19.8" fill="#fff" stroke="#a8a8a8" stroke-width="0.8"/><line x1="682.6" y1="442.33" x2="682.6" y2="445.8" stroke="#444" stroke-width="0.7"/><line x1="680.9" y1="442.33" x2="684.3" y2="442.33" stroke="#444" stroke-width="0.7"/><rect x="678.65" y="445.8" width="7.9" height="35.7" fill="#000"/><line x1="695.3" y1="432.54" x2="695.3" y2="438.05" stroke="#8a8a8a" stroke-width="0.7"/><line x1="693.6" y1="432.54" x2="697" y2="432.54" stroke="#8a8a8a" stroke-width="0.7"/><rect x="691.35" y="438.05" width="7.9" height="43.45" fill="#7d7d7d"/><path d="M669.5 454.4V432.3H682.5V437.1" fill="none" stroke="#999999" stroke-width="0.65"/><circle cx="672.5" cy="426.8" r="1.12" fill="#303030"/><circle cx="676" cy="426.8" r="1.12" fill="#303030"/><circle cx="679.5" cy="426.8" r="1.12" fill="#303030"/><path d="M684.2 437.1V421.6H697.2V427.6" fill="none" stroke="#999999" stroke-width="0.65"/><circle cx="687.2" cy="416.9" r="1.12" fill="#303030"/><circle cx="690.7" cy="416.9" r="1.12" fill="#303030"/><circle cx="694.2" cy="416.9" r="1.12" fill="#303030"/><path d="M667.4 415.2V408.3H699.4V415.2" fill="none" stroke="#999999" stroke-width="0.65"/><circle cx="679.9" cy="403.1" r="1.12" fill="#303030"/><circle cx="683.4" cy="403.1" r="1.12" fill="#303030"/><circle cx="686.9" cy="403.1" r="1.12" fill="#303030"/><line x1="715.6" y1="459.06" x2="715.6" y2="461.3" stroke="#9a9a9a" stroke-width="0.6"/><line x1="713.9" y1="459.06" x2="717.3" y2="459.06" stroke="#9a9a9a" stroke-width="0.6"/><rect x="712.05" y="461.7" width="7.1" height="19.8" fill="#fff" stroke="#a8a8a8" stroke-width="0.8"/><line x1="728.1" y1="434.17" x2="728.1" y2="438.86" stroke="#444" stroke-width="0.7"/><line x1="726.4" y1="434.17" x2="729.8" y2="434.17" stroke="#444" stroke-width="0.7"/><rect x="724.15" y="438.86" width="7.9" height="42.64" fill="#000"/><line x1="740.8" y1="418.67" x2="740.8" y2="422.95" stroke="#8a8a8a" stroke-width="0.7"/><line x1="739.1" y1="418.67" x2="742.5" y2="418.67" stroke="#8a8a8a" stroke-width="0.7"/><rect x="736.85" y="422.95" width="7.9" height="58.55" fill="#7d7d7d"/><path d="M716.2 455.3V424.2H728.3V429.4" fill="none" stroke="#999999" stroke-width="0.65"/><circle cx="718.75" cy="419.3" r="1.12" fill="#303030"/><circle cx="722.25" cy="419.3" r="1.12" fill="#303030"/><circle cx="725.75" cy="419.3" r="1.12" fill="#303030"/><path d="M730.4 429.7V406.4H742.7V412.1" fill="none" stroke="#999999" stroke-width="0.65"/><circle cx="733.05" cy="402.5" r="1.12" fill="#303030"/><circle cx="736.55" cy="402.5" r="1.12" fill="#303030"/><circle cx="740.05" cy="402.5" r="1.12" fill="#303030"/><path d="M711.5 398.2V393.4H745.6V398.2" fill="none" stroke="#999999" stroke-width="0.65"/><circle cx="725.05" cy="388.7" r="1.12" fill="#303030"/><circle cx="728.55" cy="388.7" r="1.12" fill="#303030"/><circle cx="732.05" cy="388.7" r="1.12" fill="#303030"/><line x1="761.8" y1="459.06" x2="761.8" y2="461.3" stroke="#9a9a9a" stroke-width="0.6"/><line x1="760.1" y1="459.06" x2="763.5" y2="459.06" stroke="#9a9a9a" stroke-width="0.6"/><rect x="758.25" y="461.7" width="7.1" height="19.8" fill="#fff" stroke="#a8a8a8" stroke-width="0.8"/><line x1="774.3" y1="414.79" x2="774.3" y2="417.65" stroke="#444" stroke-width="0.7"/><line x1="772.6" y1="414.79" x2="776" y2="414.79" stroke="#444" stroke-width="0.7"/><rect x="770.35" y="417.65" width="7.9" height="63.85" fill="#000"/><line x1="787" y1="363.59" x2="787" y2="369.71" stroke="#8a8a8a" stroke-width="0.7"/><line x1="785.3" y1="363.59" x2="788.7" y2="363.59" stroke="#8a8a8a" stroke-width="0.7"/><rect x="783.05" y="369.71" width="7.9" height="111.79" fill="#7d7d7d"/><path d="M761.7 454.4V402.5H773.3V410.3" fill="none" stroke="#999999" stroke-width="0.65"/><circle cx="764" cy="396" r="1.12" fill="#303030"/><circle cx="767.5" cy="396" r="1.12" fill="#303030"/><circle cx="771" cy="396" r="1.12" fill="#303030"/><path d="M775 411.2V353.6H788V360.2" fill="none" stroke="#999999" stroke-width="0.65"/><circle cx="778" cy="348.9" r="1.12" fill="#303030"/><circle cx="781.5" cy="348.9" r="1.12" fill="#303030"/><circle cx="785" cy="348.9" r="1.12" fill="#303030"/><path d="M758.6 348.4V340.6H791V348.4" fill="none" stroke="#999999" stroke-width="0.65"/><circle cx="771.3" cy="335.4" r="1.12" fill="#303030"/><circle cx="774.8" cy="335.4" r="1.12" fill="#303030"/><circle cx="778.3" cy="335.4" r="1.12" fill="#303030"/><line x1="570" y1="318.3" x2="570" y2="482.1" stroke="#1a1a1a" stroke-width="1.4"/><line x1="567.2" y1="481.5" x2="797" y2="481.5" stroke="#1a1a1a" stroke-width="1.3"/><line x1="567.2" y1="481.5" x2="570" y2="481.5" stroke="#1a1a1a" stroke-width="1.1"/><text x="566.2" y="484.2" font-family='"Liberation Sans", sans-serif' font-size="7.5" text-anchor="end" font-weight="400" fill="#222" stroke="#222" stroke-width="0.08">0</text><line x1="567.2" y1="440.7" x2="570" y2="440.7" stroke="#1a1a1a" stroke-width="1.1"/><text x="566.2" y="443.4" font-family='"Liberation Sans", sans-serif' font-size="7.5" text-anchor="end" font-weight="400" fill="#222" stroke="#222" stroke-width="0.08">2</text><line x1="567.2" y1="399.9" x2="570" y2="399.9" stroke="#1a1a1a" stroke-width="1.1"/><text x="566.2" y="402.6" font-family='"Liberation Sans", sans-serif' font-size="7.5" text-anchor="end" font-weight="400" fill="#222" stroke="#222" stroke-width="0.08">4</text><line x1="567.2" y1="359.1" x2="570" y2="359.1" stroke="#1a1a1a" stroke-width="1.1"/><text x="566.2" y="361.8" font-family='"Liberation Sans", sans-serif' font-size="7.5" text-anchor="end" font-weight="400" fill="#222" stroke="#222" stroke-width="0.08">6</text><line x1="567.2" y1="318.3" x2="570" y2="318.3" stroke="#1a1a1a" stroke-width="1.1"/><text x="566.2" y="321" font-family='"Liberation Sans", sans-serif' font-size="7.5" text-anchor="end" font-weight="400" fill="#222" stroke="#222" stroke-width="0.08">8</text><line x1="591.1" y1="481.5" x2="591.1" y2="484.5" stroke="#1a1a1a" stroke-width="1.1"/><text x="591.1" y="492.3" font-family='"Liberation Serif", serif' font-size="7.3" text-anchor="middle" font-weight="400" fill="#222" stroke="#222" stroke-width="0.12">0</text><line x1="636.8" y1="481.5" x2="636.8" y2="484.5" stroke="#1a1a1a" stroke-width="1.1"/><text x="636.8" y="492.3" font-family='"Liberation Serif", serif' font-size="7.3" text-anchor="middle" font-weight="400" fill="#222" stroke="#222" stroke-width="0.12">2</text><line x1="682.5" y1="481.5" x2="682.5" y2="484.5" stroke="#1a1a1a" stroke-width="1.1"/><text x="682.5" y="492.3" font-family='"Liberation Serif", serif' font-size="7.3" text-anchor="middle" font-weight="400" fill="#222" stroke="#222" stroke-width="0.12">4</text><line x1="728" y1="481.5" x2="728" y2="484.5" stroke="#1a1a1a" stroke-width="1.1"/><text x="728" y="492.3" font-family='"Liberation Serif", serif' font-size="7.3" text-anchor="middle" font-weight="400" fill="#222" stroke="#222" stroke-width="0.12">6</text><line x1="774.2" y1="481.5" x2="774.2" y2="484.5" stroke="#1a1a1a" stroke-width="1.1"/><text x="774.2" y="492.3" font-family='"Liberation Serif", serif' font-size="7.3" text-anchor="middle" font-weight="400" fill="#222" stroke="#222" stroke-width="0.12">8</text><text x="682.7" y="504.6" font-family='"Liberation Serif", serif' font-size="9.3" text-anchor="middle" font-weight="400" fill="#222" stroke="#222" stroke-width="0.25">hours post stimulation</text><text x="557.6" y="399.9" font-family='"Liberation Serif", serif' font-size="8.5" text-anchor="middle" font-weight="400" fill="#222" stroke="#222" stroke-width="0.25" transform="rotate(-90 557.6 399.9)">Normalized ChNF-&#954;B mRNA</text><rect x="32.2" y="547.1" width="10.8" height="4.3" fill="#fff" stroke="#b0b0b0" stroke-width="0.9"/><text x="49.3" y="551.7" font-family='"Liberation Serif", serif' font-size="8.4" text-anchor="start" font-weight="400" fill="#1e1e1e" stroke="#1e1e1e" stroke-width="0.25">PCMV+Unstim</text><rect x="31.7" y="558.15" width="11.6" height="5" fill="#000"/><text x="49.3" y="563.15" font-family='"Liberation Serif", serif' font-size="8.4" text-anchor="start" font-weight="400" fill="#1e1e1e" stroke="#1e1e1e" stroke-width="0.25">PCMV+Stim</text><rect x="31.7" y="569.6" width="11.6" height="5" fill="#7d7d7d"/><text x="49.3" y="574.6" font-family='"Liberation Serif", serif' font-size="8.4" text-anchor="start" font-weight="400" fill="#1e1e1e" stroke="#1e1e1e" stroke-width="0.25">PCMV-ChTLR15+Stim</text><line x1="33.4" y1="727.95" x2="33.4" y2="730.19" stroke="#9a9a9a" stroke-width="0.6"/><line x1="31.7" y1="727.95" x2="35.1" y2="727.95" stroke="#9a9a9a" stroke-width="0.6"/><rect x="29.85" y="730.59" width="7.1" height="20.41" fill="#fff" stroke="#a8a8a8" stroke-width="0.8"/><line x1="45.9" y1="727.95" x2="45.9" y2="731.01" stroke="#444" stroke-width="0.7"/><line x1="44.2" y1="727.95" x2="47.6" y2="727.95" stroke="#444" stroke-width="0.7"/><rect x="41.95" y="731.01" width="7.9" height="19.99" fill="#000"/><line x1="58.6" y1="728.56" x2="58.6" y2="732.44" stroke="#8a8a8a" stroke-width="0.7"/><line x1="56.9" y1="728.56" x2="60.3" y2="728.56" stroke="#8a8a8a" stroke-width="0.7"/><rect x="54.65" y="732.44" width="7.9" height="18.56" fill="#7d7d7d"/><line x1="79.3" y1="728.56" x2="79.3" y2="730.19" stroke="#9a9a9a" stroke-width="0.6"/><line x1="77.6" y1="728.56" x2="81" y2="728.56" stroke="#9a9a9a" stroke-width="0.6"/><rect x="75.75" y="730.59" width="7.1" height="20.41" fill="#fff" stroke="#a8a8a8" stroke-width="0.8"/><line x1="91.8" y1="689.39" x2="91.8" y2="693.47" stroke="#444" stroke-width="0.7"/><line x1="90.1" y1="689.39" x2="93.5" y2="689.39" stroke="#444" stroke-width="0.7"/><rect x="87.85" y="693.47" width="7.9" height="57.53" fill="#000"/><line x1="104.5" y1="659.2" x2="104.5" y2="665.73" stroke="#8a8a8a" stroke-width="0.7"/><line x1="102.8" y1="659.2" x2="106.2" y2="659.2" stroke="#8a8a8a" stroke-width="0.7"/><rect x="100.55" y="665.73" width="7.9" height="85.27" fill="#7d7d7d"/><path d="M77.7 721.1V679.5H90.7V684.4" fill="none" stroke="#999999" stroke-width="0.65"/><circle cx="80.7" cy="675.2" r="1.12" fill="#303030"/><circle cx="84.2" cy="675.2" r="1.12" fill="#303030"/><circle cx="87.7" cy="675.2" r="1.12" fill="#303030"/><path d="M92.4 683.9V651H104.5V655.3" fill="none" stroke="#999999" stroke-width="0.65"/><circle cx="94.95" cy="647" r="1.12" fill="#303030"/><circle cx="98.45" cy="647" r="1.12" fill="#303030"/><circle cx="101.95" cy="647" r="1.12" fill="#303030"/><path d="M75.2 643.7V639.2H107.6V643.7" fill="none" stroke="#999999" stroke-width="0.65"/><circle cx="87.9" cy="635.1" r="1.12" fill="#303030"/><circle cx="91.4" cy="635.1" r="1.12" fill="#303030"/><circle cx="94.9" cy="635.1" r="1.12" fill="#303030"/><line x1="124.8" y1="727.13" x2="124.8" y2="730.19" stroke="#9a9a9a" stroke-width="0.6"/><line x1="123.1" y1="727.13" x2="126.5" y2="727.13" stroke="#9a9a9a" stroke-width="0.6"/><rect x="121.25" y="730.59" width="7.1" height="20.41" fill="#fff" stroke="#a8a8a8" stroke-width="0.8"/><line x1="137.3" y1="705.1" x2="137.3" y2="708.36" stroke="#444" stroke-width="0.7"/><line x1="135.6" y1="705.1" x2="139" y2="705.1" stroke="#444" stroke-width="0.7"/><rect x="133.35" y="708.36" width="7.9" height="42.64" fill="#000"/><line x1="150" y1="683.07" x2="150" y2="685.92" stroke="#8a8a8a" stroke-width="0.7"/><line x1="148.3" y1="683.07" x2="151.7" y2="683.07" stroke="#8a8a8a" stroke-width="0.7"/><rect x="146.05" y="685.92" width="7.9" height="65.08" fill="#7d7d7d"/><path d="M124.5 723.7V695H136.8V700" fill="none" stroke="#999999" stroke-width="0.65"/><circle cx="127.15" cy="689.7" r="1.12" fill="#303030"/><circle cx="130.65" cy="689.7" r="1.12" fill="#303030"/><circle cx="134.15" cy="689.7" r="1.12" fill="#303030"/><path d="M138.6 704.6V670.4H151V677.3" fill="none" stroke="#999999" stroke-width="0.65"/><circle cx="141.3" cy="665.9" r="1.12" fill="#303030"/><circle cx="144.8" cy="665.9" r="1.12" fill="#303030"/><circle cx="148.3" cy="665.9" r="1.12" fill="#303030"/><path d="M121.4 661.9V657.3H153.6V661.9" fill="none" stroke="#999999" stroke-width="0.65"/><circle cx="134" cy="652.4" r="1.12" fill="#303030"/><circle cx="137.5" cy="652.4" r="1.12" fill="#303030"/><circle cx="141" cy="652.4" r="1.12" fill="#303030"/><line x1="170.3" y1="727.13" x2="170.3" y2="730.19" stroke="#9a9a9a" stroke-width="0.6"/><line x1="168.6" y1="727.13" x2="172" y2="727.13" stroke="#9a9a9a" stroke-width="0.6"/><rect x="166.75" y="730.59" width="7.1" height="20.41" fill="#fff" stroke="#a8a8a8" stroke-width="0.8"/><line x1="182.8" y1="711.22" x2="182.8" y2="716.12" stroke="#444" stroke-width="0.7"/><line x1="181.1" y1="711.22" x2="184.5" y2="711.22" stroke="#444" stroke-width="0.7"/><rect x="178.85" y="716.12" width="7.9" height="34.88" fill="#000"/><line x1="195.5" y1="694.9" x2="195.5" y2="699.18" stroke="#8a8a8a" stroke-width="0.7"/><line x1="193.8" y1="694.9" x2="197.2" y2="694.9" stroke="#8a8a8a" stroke-width="0.7"/><rect x="191.55" y="699.18" width="7.9" height="51.82" fill="#7d7d7d"/><path d="M171.4 722.8V703.2H183.8V708.3" fill="none" stroke="#999999" stroke-width="0.65"/><circle cx="174.1" cy="698.2" r="1.12" fill="#303030"/><circle cx="177.6" cy="698.2" r="1.12" fill="#303030"/><circle cx="181.1" cy="698.2" r="1.12" fill="#303030"/><path d="M185.6 709.5V684.1H197.8V691" fill="none" stroke="#999999" stroke-width="0.65"/><circle cx="188.2" cy="679.7" r="1.12" fill="#303030"/><circle cx="191.7" cy="679.7" r="1.12" fill="#303030"/><circle cx="195.2" cy="679.7" r="1.12" fill="#303030"/><path d="M168.3 676.4V670.6H201.4V676.4" fill="none" stroke="#999999" stroke-width="0.65"/><circle cx="181.35" cy="665.9" r="1.12" fill="#303030"/><circle cx="184.85" cy="665.9" r="1.12" fill="#303030"/><circle cx="188.35" cy="665.9" r="1.12" fill="#303030"/><line x1="216.3" y1="729.58" x2="216.3" y2="730.19" stroke="#9a9a9a" stroke-width="0.6"/><line x1="214.6" y1="729.58" x2="218" y2="729.58" stroke="#9a9a9a" stroke-width="0.6"/><rect x="212.75" y="730.59" width="7.1" height="20.41" fill="#fff" stroke="#a8a8a8" stroke-width="0.8"/><line x1="228.8" y1="674.91" x2="228.8" y2="678.17" stroke="#444" stroke-width="0.7"/><line x1="227.1" y1="674.91" x2="230.5" y2="674.91" stroke="#444" stroke-width="0.7"/><rect x="224.85" y="678.17" width="7.9" height="72.83" fill="#000"/><line x1="241.5" y1="632.48" x2="241.5" y2="637.37" stroke="#8a8a8a" stroke-width="0.7"/><line x1="239.8" y1="632.48" x2="243.2" y2="632.48" stroke="#8a8a8a" stroke-width="0.7"/><rect x="237.55" y="637.37" width="7.9" height="113.63" fill="#7d7d7d"/><path d="M215.4 722.8V665.1H227.8V670" fill="none" stroke="#999999" stroke-width="0.65"/><circle cx="218.1" cy="661.5" r="1.12" fill="#303030"/><circle cx="221.6" cy="661.5" r="1.12" fill="#303030"/><circle cx="225.1" cy="661.5" r="1.12" fill="#303030"/><path d="M230.2 674.6V621.5H243.3V628.2" fill="none" stroke="#999999" stroke-width="0.65"/><circle cx="233.25" cy="616.4" r="1.12" fill="#303030"/><circle cx="236.75" cy="616.4" r="1.12" fill="#303030"/><circle cx="240.25" cy="616.4" r="1.12" fill="#303030"/><path d="M213.8 613.7V608.2H246.9V613.7" fill="none" stroke="#999999" stroke-width="0.65"/><circle cx="226.85" cy="603.3" r="1.12" fill="#303030"/><circle cx="230.35" cy="603.3" r="1.12" fill="#303030"/><circle cx="233.85" cy="603.3" r="1.12" fill="#303030"/><line x1="24.9" y1="587.8" x2="24.9" y2="751.6" stroke="#1a1a1a" stroke-width="1.4"/><line x1="22.1" y1="751" x2="249.5" y2="751" stroke="#1a1a1a" stroke-width="1.3"/><line x1="22.1" y1="751" x2="24.9" y2="751" stroke="#1a1a1a" stroke-width="1.1"/><text x="21.1" y="753.7" font-family='"Liberation Sans", sans-serif' font-size="7.5" text-anchor="end" font-weight="400" fill="#222" stroke="#222" stroke-width="0.08">0</text><line x1="22.1" y1="710.2" x2="24.9" y2="710.2" stroke="#1a1a1a" stroke-width="1.1"/><text x="21.1" y="712.9" font-family='"Liberation Sans", sans-serif' font-size="7.5" text-anchor="end" font-weight="400" fill="#222" stroke="#222" stroke-width="0.08">2</text><line x1="22.1" y1="669.4" x2="24.9" y2="669.4" stroke="#1a1a1a" stroke-width="1.1"/><text x="21.1" y="672.1" font-family='"Liberation Sans", sans-serif' font-size="7.5" text-anchor="end" font-weight="400" fill="#222" stroke="#222" stroke-width="0.08">4</text><line x1="22.1" y1="628.6" x2="24.9" y2="628.6" stroke="#1a1a1a" stroke-width="1.1"/><text x="21.1" y="631.3" font-family='"Liberation Sans", sans-serif' font-size="7.5" text-anchor="end" font-weight="400" fill="#222" stroke="#222" stroke-width="0.08">6</text><line x1="22.1" y1="587.8" x2="24.9" y2="587.8" stroke="#1a1a1a" stroke-width="1.1"/><text x="21.1" y="590.5" font-family='"Liberation Sans", sans-serif' font-size="7.5" text-anchor="end" font-weight="400" fill="#222" stroke="#222" stroke-width="0.08">8</text><line x1="45.8" y1="751" x2="45.8" y2="754" stroke="#1a1a1a" stroke-width="1.1"/><text x="45.8" y="761.8" font-family='"Liberation Serif", serif' font-size="7.3" text-anchor="middle" font-weight="400" fill="#222" stroke="#222" stroke-width="0.12">0</text><line x1="91.7" y1="751" x2="91.7" y2="754" stroke="#1a1a1a" stroke-width="1.1"/><text x="91.7" y="761.8" font-family='"Liberation Serif", serif' font-size="7.3" text-anchor="middle" font-weight="400" fill="#222" stroke="#222" stroke-width="0.12">2</text><line x1="137.2" y1="751" x2="137.2" y2="754" stroke="#1a1a1a" stroke-width="1.1"/><text x="137.2" y="761.8" font-family='"Liberation Serif", serif' font-size="7.3" text-anchor="middle" font-weight="400" fill="#222" stroke="#222" stroke-width="0.12">4</text><line x1="182.7" y1="751" x2="182.7" y2="754" stroke="#1a1a1a" stroke-width="1.1"/><text x="182.7" y="761.8" font-family='"Liberation Serif", serif' font-size="7.3" text-anchor="middle" font-weight="400" fill="#222" stroke="#222" stroke-width="0.12">6</text><line x1="228.7" y1="751" x2="228.7" y2="754" stroke="#1a1a1a" stroke-width="1.1"/><text x="228.7" y="761.8" font-family='"Liberation Serif", serif' font-size="7.3" text-anchor="middle" font-weight="400" fill="#222" stroke="#222" stroke-width="0.12">8</text><text x="137.6" y="774.1" font-family='"Liberation Serif", serif' font-size="9.3" text-anchor="middle" font-weight="400" fill="#222" stroke="#222" stroke-width="0.25">hours post stimulation</text><text x="12.5" y="669.4" font-family='"Liberation Serif", serif' font-size="8.5" text-anchor="middle" font-weight="400" fill="#222" stroke="#222" stroke-width="0.25" transform="rotate(-90 12.5 669.4)">Normalized ChNLRP3 mRNA</text><rect x="306.3" y="547.1" width="10.8" height="4.3" fill="#fff" stroke="#b0b0b0" stroke-width="0.9"/><text x="323.4" y="551.7" font-family='"Liberation Serif", serif' font-size="8.4" text-anchor="start" font-weight="400" fill="#1e1e1e" stroke="#1e1e1e" stroke-width="0.25">PCMV+Unstim</text><rect x="305.8" y="558.15" width="11.6" height="5" fill="#000"/><text x="323.4" y="563.15" font-family='"Liberation Serif", serif' font-size="8.4" text-anchor="start" font-weight="400" fill="#1e1e1e" stroke="#1e1e1e" stroke-width="0.25">PCMV+Stim</text><rect x="305.8" y="569.6" width="11.6" height="5" fill="#7d7d7d"/><text x="323.4" y="574.6" font-family='"Liberation Serif", serif' font-size="8.4" text-anchor="start" font-weight="400" fill="#1e1e1e" stroke="#1e1e1e" stroke-width="0.25">PCMV-ChTLR15+Stim</text><line x1="307.4" y1="730.8" x2="307.4" y2="731.62" stroke="#9a9a9a" stroke-width="0.6"/><line x1="305.7" y1="730.8" x2="309.1" y2="730.8" stroke="#9a9a9a" stroke-width="0.6"/><rect x="303.85" y="732.02" width="7.1" height="18.98" fill="#fff" stroke="#a8a8a8" stroke-width="0.8"/><line x1="319.9" y1="727.95" x2="319.9" y2="730.6" stroke="#444" stroke-width="0.7"/><line x1="318.2" y1="727.95" x2="321.6" y2="727.95" stroke="#444" stroke-width="0.7"/><rect x="315.95" y="730.6" width="7.9" height="20.4" fill="#000"/><line x1="332.6" y1="731.01" x2="332.6" y2="732.03" stroke="#8a8a8a" stroke-width="0.7"/><line x1="330.9" y1="731.01" x2="334.3" y2="731.01" stroke="#8a8a8a" stroke-width="0.7"/><rect x="328.65" y="732.03" width="7.9" height="18.97" fill="#7d7d7d"/><line x1="352.4" y1="727.95" x2="352.4" y2="730.19" stroke="#9a9a9a" stroke-width="0.6"/><line x1="350.7" y1="727.95" x2="354.1" y2="727.95" stroke="#9a9a9a" stroke-width="0.6"/><rect x="348.85" y="730.59" width="7.1" height="20.41" fill="#fff" stroke="#a8a8a8" stroke-width="0.8"/><line x1="364.9" y1="688.17" x2="364.9" y2="691.84" stroke="#444" stroke-width="0.7"/><line x1="363.2" y1="688.17" x2="366.6" y2="688.17" stroke="#444" stroke-width="0.7"/><rect x="360.95" y="691.84" width="7.9" height="59.16" fill="#000"/><line x1="377.6" y1="667.36" x2="377.6" y2="670.83" stroke="#8a8a8a" stroke-width="0.7"/><line x1="375.9" y1="667.36" x2="379.3" y2="667.36" stroke="#8a8a8a" stroke-width="0.7"/><rect x="373.65" y="670.83" width="7.9" height="80.17" fill="#7d7d7d"/><path d="M350.6 719.4V678.3H363.6V683" fill="none" stroke="#999999" stroke-width="0.65"/><circle cx="353.6" cy="674.9" r="1.12" fill="#303030"/><circle cx="357.1" cy="674.9" r="1.12" fill="#303030"/><circle cx="360.6" cy="674.9" r="1.12" fill="#303030"/><path d="M365.3 682.1V657.9H378.6V663.1" fill="none" stroke="#999999" stroke-width="0.65"/><circle cx="368.45" cy="653.6" r="1.12" fill="#303030"/><circle cx="371.95" cy="653.6" r="1.12" fill="#303030"/><circle cx="375.45" cy="653.6" r="1.12" fill="#303030"/><path d="M350.2 651V646.3H380.5V651" fill="none" stroke="#999999" stroke-width="0.65"/><circle cx="361.85" cy="640.9" r="1.12" fill="#303030"/><circle cx="365.35" cy="640.9" r="1.12" fill="#303030"/><circle cx="368.85" cy="640.9" r="1.12" fill="#303030"/><line x1="398.2" y1="728.36" x2="398.2" y2="730.19" stroke="#9a9a9a" stroke-width="0.6"/><line x1="396.5" y1="728.36" x2="399.9" y2="728.36" stroke="#9a9a9a" stroke-width="0.6"/><rect x="394.65" y="730.59" width="7.1" height="20.41" fill="#fff" stroke="#a8a8a8" stroke-width="0.8"/><line x1="410.7" y1="711.22" x2="410.7" y2="714.28" stroke="#444" stroke-width="0.7"/><line x1="409" y1="711.22" x2="412.4" y2="711.22" stroke="#444" stroke-width="0.7"/><rect x="406.75" y="714.28" width="7.9" height="36.72" fill="#000"/><line x1="423.4" y1="703.47" x2="423.4" y2="706.73" stroke="#8a8a8a" stroke-width="0.7"/><line x1="421.7" y1="703.47" x2="425.1" y2="703.47" stroke="#8a8a8a" stroke-width="0.7"/><rect x="419.45" y="706.73" width="7.9" height="44.27" fill="#7d7d7d"/><path d="M397.2 722.5V700.6H410V704.2" fill="none" stroke="#999999" stroke-width="0.65"/><circle cx="400.1" cy="695.1" r="1.12" fill="#303030"/><circle cx="403.6" cy="695.1" r="1.12" fill="#303030"/><circle cx="407.1" cy="695.1" r="1.12" fill="#303030"/><path d="M411.5 705.1V690.2H424.3V696" fill="none" stroke="#999999" stroke-width="0.65"/><circle cx="414.4" cy="685.4" r="1.12" fill="#303030"/><circle cx="417.9" cy="685.4" r="1.12" fill="#303030"/><circle cx="421.4" cy="685.4" r="1.12" fill="#303030"/><path d="M395 683.2V676.3H427.4V683.2" fill="none" stroke="#999999" stroke-width="0.65"/><circle cx="407.7" cy="671.4" r="1.12" fill="#303030"/><circle cx="411.2" cy="671.4" r="1.12" fill="#303030"/><circle cx="414.7" cy="671.4" r="1.12" fill="#303030"/><line x1="443.8" y1="727.34" x2="443.8" y2="730.19" stroke="#9a9a9a" stroke-width="0.6"/><line x1="442.1" y1="727.34" x2="445.5" y2="727.34" stroke="#9a9a9a" stroke-width="0.6"/><rect x="440.25" y="730.59" width="7.1" height="20.41" fill="#fff" stroke="#a8a8a8" stroke-width="0.8"/><line x1="456.3" y1="701.84" x2="456.3" y2="704.9" stroke="#444" stroke-width="0.7"/><line x1="454.6" y1="701.84" x2="458" y2="701.84" stroke="#444" stroke-width="0.7"/><rect x="452.35" y="704.9" width="7.9" height="46.1" fill="#000"/><line x1="469" y1="684.9" x2="469" y2="690" stroke="#8a8a8a" stroke-width="0.7"/><line x1="467.3" y1="684.9" x2="470.7" y2="684.9" stroke="#8a8a8a" stroke-width="0.7"/><rect x="465.05" y="690" width="7.9" height="61" fill="#7d7d7d"/><path d="M443.4 723.4V692.4H455.9V697.8" fill="none" stroke="#999999" stroke-width="0.65"/><circle cx="446.15" cy="687.4" r="1.12" fill="#303030"/><circle cx="449.65" cy="687.4" r="1.12" fill="#303030"/><circle cx="453.15" cy="687.4" r="1.12" fill="#303030"/><path d="M457.7 697.8V673.5H470.3V680.1" fill="none" stroke="#999999" stroke-width="0.65"/><circle cx="460.5" cy="668.6" r="1.12" fill="#303030"/><circle cx="464" cy="668.6" r="1.12" fill="#303030"/><circle cx="467.5" cy="668.6" r="1.12" fill="#303030"/><path d="M440.3 665V659.5H472.7V665" fill="none" stroke="#999999" stroke-width="0.65"/><circle cx="453" cy="654.9" r="1.12" fill="#303030"/><circle cx="456.5" cy="654.9" r="1.12" fill="#303030"/><circle cx="460" cy="654.9" r="1.12" fill="#303030"/><line x1="488.9" y1="726.93" x2="488.9" y2="730.19" stroke="#9a9a9a" stroke-width="0.6"/><line x1="487.2" y1="726.93" x2="490.6" y2="726.93" stroke="#9a9a9a" stroke-width="0.6"/><rect x="485.35" y="730.59" width="7.1" height="20.41" fill="#fff" stroke="#a8a8a8" stroke-width="0.8"/><line x1="501.4" y1="675.52" x2="501.4" y2="677.15" stroke="#444" stroke-width="0.7"/><line x1="499.7" y1="675.52" x2="503.1" y2="675.52" stroke="#444" stroke-width="0.7"/><rect x="497.45" y="677.15" width="7.9" height="73.85" fill="#000"/><line x1="514.1" y1="606.16" x2="514.1" y2="618.81" stroke="#8a8a8a" stroke-width="0.7"/><line x1="512.4" y1="606.16" x2="515.8" y2="606.16" stroke="#8a8a8a" stroke-width="0.7"/><rect x="510.15" y="618.81" width="7.9" height="132.19" fill="#7d7d7d"/><path d="M488.7 723.4V665H501V670.1" fill="none" stroke="#999999" stroke-width="0.65"/><circle cx="491.35" cy="661.3" r="1.12" fill="#303030"/><circle cx="494.85" cy="661.3" r="1.12" fill="#303030"/><circle cx="498.35" cy="661.3" r="1.12" fill="#303030"/><path d="M503.3 674.1V595.6H516.1V600.1" fill="none" stroke="#999999" stroke-width="0.65"/><circle cx="506.2" cy="589.7" r="1.12" fill="#303030"/><circle cx="509.7" cy="589.7" r="1.12" fill="#303030"/><circle cx="513.2" cy="589.7" r="1.12" fill="#303030"/><path d="M485.1 587.9V582.4H518.7V587.9" fill="none" stroke="#999999" stroke-width="0.65"/><circle cx="498.4" cy="576.9" r="1.12" fill="#303030"/><circle cx="501.9" cy="576.9" r="1.12" fill="#303030"/><circle cx="505.4" cy="576.9" r="1.12" fill="#303030"/><line x1="299" y1="587.8" x2="299" y2="751.6" stroke="#1a1a1a" stroke-width="1.4"/><line x1="296.2" y1="751" x2="523.6" y2="751" stroke="#1a1a1a" stroke-width="1.3"/><line x1="296.2" y1="751" x2="299" y2="751" stroke="#1a1a1a" stroke-width="1.1"/><text x="295.2" y="753.7" font-family='"Liberation Sans", sans-serif' font-size="7.5" text-anchor="end" font-weight="400" fill="#222" stroke="#222" stroke-width="0.08">0</text><line x1="296.2" y1="710.2" x2="299" y2="710.2" stroke="#1a1a1a" stroke-width="1.1"/><text x="295.2" y="712.9" font-family='"Liberation Sans", sans-serif' font-size="7.5" text-anchor="end" font-weight="400" fill="#222" stroke="#222" stroke-width="0.08">2</text><line x1="296.2" y1="669.4" x2="299" y2="669.4" stroke="#1a1a1a" stroke-width="1.1"/><text x="295.2" y="672.1" font-family='"Liberation Sans", sans-serif' font-size="7.5" text-anchor="end" font-weight="400" fill="#222" stroke="#222" stroke-width="0.08">4</text><line x1="296.2" y1="628.6" x2="299" y2="628.6" stroke="#1a1a1a" stroke-width="1.1"/><text x="295.2" y="631.3" font-family='"Liberation Sans", sans-serif' font-size="7.5" text-anchor="end" font-weight="400" fill="#222" stroke="#222" stroke-width="0.08">6</text><line x1="296.2" y1="587.8" x2="299" y2="587.8" stroke="#1a1a1a" stroke-width="1.1"/><text x="295.2" y="590.5" font-family='"Liberation Sans", sans-serif' font-size="7.5" text-anchor="end" font-weight="400" fill="#222" stroke="#222" stroke-width="0.08">8</text><line x1="319.8" y1="751" x2="319.8" y2="754" stroke="#1a1a1a" stroke-width="1.1"/><text x="319.8" y="761.8" font-family='"Liberation Serif", serif' font-size="7.3" text-anchor="middle" font-weight="400" fill="#222" stroke="#222" stroke-width="0.12">0</text><line x1="364.8" y1="751" x2="364.8" y2="754" stroke="#1a1a1a" stroke-width="1.1"/><text x="364.8" y="761.8" font-family='"Liberation Serif", serif' font-size="7.3" text-anchor="middle" font-weight="400" fill="#222" stroke="#222" stroke-width="0.12">2</text><line x1="410.6" y1="751" x2="410.6" y2="754" stroke="#1a1a1a" stroke-width="1.1"/><text x="410.6" y="761.8" font-family='"Liberation Serif", serif' font-size="7.3" text-anchor="middle" font-weight="400" fill="#222" stroke="#222" stroke-width="0.12">4</text><line x1="456.2" y1="751" x2="456.2" y2="754" stroke="#1a1a1a" stroke-width="1.1"/><text x="456.2" y="761.8" font-family='"Liberation Serif", serif' font-size="7.3" text-anchor="middle" font-weight="400" fill="#222" stroke="#222" stroke-width="0.12">6</text><line x1="501.3" y1="751" x2="501.3" y2="754" stroke="#1a1a1a" stroke-width="1.1"/><text x="501.3" y="761.8" font-family='"Liberation Serif", serif' font-size="7.3" text-anchor="middle" font-weight="400" fill="#222" stroke="#222" stroke-width="0.12">8</text><text x="411.7" y="774.1" font-family='"Liberation Serif", serif' font-size="9.3" text-anchor="middle" font-weight="400" fill="#222" stroke="#222" stroke-width="0.25">hours post stimulation</text><text x="286.6" y="669.4" font-family='"Liberation Serif", serif' font-size="8.5" text-anchor="middle" font-weight="400" fill="#222" stroke="#222" stroke-width="0.25" transform="rotate(-90 286.6 669.4)">Normalized ChCaspase-1 mRNA</text><rect x="577.3" y="547.1" width="10.8" height="4.3" fill="#fff" stroke="#b0b0b0" stroke-width="0.9"/><text x="594.4" y="551.7" font-family='"Liberation Serif", serif' font-size="8.4" text-anchor="start" font-weight="400" fill="#1e1e1e" stroke="#1e1e1e" stroke-width="0.25">PCMV+Unstim</text><rect x="576.8" y="558.15" width="11.6" height="5" fill="#000"/><text x="594.4" y="563.15" font-family='"Liberation Serif", serif' font-size="8.4" text-anchor="start" font-weight="400" fill="#1e1e1e" stroke="#1e1e1e" stroke-width="0.25">PCMV+Stim</text><rect x="576.8" y="569.6" width="11.6" height="5" fill="#7d7d7d"/><text x="594.4" y="574.6" font-family='"Liberation Serif", serif' font-size="8.4" text-anchor="start" font-weight="400" fill="#1e1e1e" stroke="#1e1e1e" stroke-width="0.25">PCMV-ChTLR15+Stim</text><line x1="578.4" y1="727.74" x2="578.4" y2="730.19" stroke="#9a9a9a" stroke-width="0.6"/><line x1="576.7" y1="727.74" x2="580.1" y2="727.74" stroke="#9a9a9a" stroke-width="0.6"/><rect x="574.85" y="730.59" width="7.1" height="20.41" fill="#fff" stroke="#a8a8a8" stroke-width="0.8"/><line x1="590.9" y1="728.56" x2="590.9" y2="730.6" stroke="#444" stroke-width="0.7"/><line x1="589.2" y1="728.56" x2="592.6" y2="728.56" stroke="#444" stroke-width="0.7"/><rect x="586.95" y="730.6" width="7.9" height="20.4" fill="#000"/><line x1="603.6" y1="730.6" x2="603.6" y2="731.01" stroke="#8a8a8a" stroke-width="0.7"/><line x1="601.9" y1="730.6" x2="605.3" y2="730.6" stroke="#8a8a8a" stroke-width="0.7"/><rect x="599.65" y="731.01" width="7.9" height="19.99" fill="#7d7d7d"/><line x1="623.8" y1="729.17" x2="623.8" y2="731.62" stroke="#9a9a9a" stroke-width="0.6"/><line x1="622.1" y1="729.17" x2="625.5" y2="729.17" stroke="#9a9a9a" stroke-width="0.6"/><rect x="620.25" y="732.02" width="7.1" height="18.98" fill="#fff" stroke="#a8a8a8" stroke-width="0.8"/><line x1="636.3" y1="673.48" x2="636.3" y2="678.78" stroke="#444" stroke-width="0.7"/><line x1="634.6" y1="673.48" x2="638" y2="673.48" stroke="#444" stroke-width="0.7"/><rect x="632.35" y="678.78" width="7.9" height="72.22" fill="#000"/><line x1="649" y1="629.82" x2="649" y2="633.7" stroke="#8a8a8a" stroke-width="0.7"/><line x1="647.3" y1="629.82" x2="650.7" y2="629.82" stroke="#8a8a8a" stroke-width="0.7"/><rect x="645.05" y="633.7" width="7.9" height="117.3" fill="#7d7d7d"/><path d="M623.5 723.7V660.5H636.2V666.6" fill="none" stroke="#999999" stroke-width="0.65"/><circle cx="626.35" cy="656.2" r="1.12" fill="#303030"/><circle cx="629.85" cy="656.2" r="1.12" fill="#303030"/><circle cx="633.35" cy="656.2" r="1.12" fill="#303030"/><path d="M637 669.2V616.7H649.7V621.6" fill="none" stroke="#999999" stroke-width="0.65"/><circle cx="639.85" cy="612.9" r="1.12" fill="#303030"/><circle cx="643.35" cy="612.9" r="1.12" fill="#303030"/><circle cx="646.85" cy="612.9" r="1.12" fill="#303030"/><path d="M620.6 611.2V605.6H652.6V611.2" fill="none" stroke="#999999" stroke-width="0.65"/><circle cx="633.1" cy="601.6" r="1.12" fill="#303030"/><circle cx="636.6" cy="601.6" r="1.12" fill="#303030"/><circle cx="640.1" cy="601.6" r="1.12" fill="#303030"/><line x1="669.6" y1="728.15" x2="669.6" y2="730.19" stroke="#9a9a9a" stroke-width="0.6"/><line x1="667.9" y1="728.15" x2="671.3" y2="728.15" stroke="#9a9a9a" stroke-width="0.6"/><rect x="666.05" y="730.59" width="7.1" height="20.41" fill="#fff" stroke="#a8a8a8" stroke-width="0.8"/><line x1="682.1" y1="693.88" x2="682.1" y2="697.35" stroke="#444" stroke-width="0.7"/><line x1="680.4" y1="693.88" x2="683.8" y2="693.88" stroke="#444" stroke-width="0.7"/><rect x="678.15" y="697.35" width="7.9" height="53.65" fill="#000"/><line x1="694.8" y1="668.58" x2="694.8" y2="672.05" stroke="#8a8a8a" stroke-width="0.7"/><line x1="693.1" y1="668.58" x2="696.5" y2="668.58" stroke="#8a8a8a" stroke-width="0.7"/><rect x="690.85" y="672.05" width="7.9" height="78.95" fill="#7d7d7d"/><path d="M670 723.5V679.6H682.4V687" fill="none" stroke="#999999" stroke-width="0.65"/><circle cx="672.7" cy="676" r="1.12" fill="#303030"/><circle cx="676.2" cy="676" r="1.12" fill="#303030"/><circle cx="679.7" cy="676" r="1.12" fill="#303030"/><path d="M684.2 688.8V650.4H696.7V657.4" fill="none" stroke="#999999" stroke-width="0.65"/><circle cx="686.95" cy="645.5" r="1.12" fill="#303030"/><circle cx="690.45" cy="645.5" r="1.12" fill="#303030"/><circle cx="693.95" cy="645.5" r="1.12" fill="#303030"/><path d="M668.3 640.4V635.2H697.9V640.4" fill="none" stroke="#999999" stroke-width="0.65"/><circle cx="679.6" cy="630.3" r="1.12" fill="#303030"/><circle cx="683.1" cy="630.3" r="1.12" fill="#303030"/><circle cx="686.6" cy="630.3" r="1.12" fill="#303030"/><line x1="714.4" y1="728.15" x2="714.4" y2="731.21" stroke="#9a9a9a" stroke-width="0.6"/><line x1="712.7" y1="728.15" x2="716.1" y2="728.15" stroke="#9a9a9a" stroke-width="0.6"/><rect x="710.85" y="731.61" width="7.1" height="19.39" fill="#fff" stroke="#a8a8a8" stroke-width="0.8"/><line x1="726.9" y1="685.11" x2="726.9" y2="688.78" stroke="#444" stroke-width="0.7"/><line x1="725.2" y1="685.11" x2="728.6" y2="685.11" stroke="#444" stroke-width="0.7"/><rect x="722.95" y="688.78" width="7.9" height="62.22" fill="#000"/><line x1="739.6" y1="659" x2="739.6" y2="663.69" stroke="#8a8a8a" stroke-width="0.7"/><line x1="737.9" y1="659" x2="741.3" y2="659" stroke="#8a8a8a" stroke-width="0.7"/><rect x="735.65" y="663.69" width="7.9" height="87.31" fill="#7d7d7d"/><path d="M713.8 722.6V672.3H726.6V680.6" fill="none" stroke="#999999" stroke-width="0.65"/><circle cx="716.7" cy="667.2" r="1.12" fill="#303030"/><circle cx="720.2" cy="667.2" r="1.12" fill="#303030"/><circle cx="723.7" cy="667.2" r="1.12" fill="#303030"/><path d="M728.5 680.6V645.3H740.5V651.9" fill="none" stroke="#999999" stroke-width="0.65"/><circle cx="731" cy="640.4" r="1.12" fill="#303030"/><circle cx="734.5" cy="640.4" r="1.12" fill="#303030"/><circle cx="738" cy="640.4" r="1.12" fill="#303030"/><path d="M711.1 637.6V630.3H744.5V637.6" fill="none" stroke="#999999" stroke-width="0.65"/><circle cx="724.3" cy="625.2" r="1.12" fill="#303030"/><circle cx="727.8" cy="625.2" r="1.12" fill="#303030"/><circle cx="731.3" cy="625.2" r="1.12" fill="#303030"/><line x1="759.9" y1="727.74" x2="759.9" y2="730.19" stroke="#9a9a9a" stroke-width="0.6"/><line x1="758.2" y1="727.74" x2="761.6" y2="727.74" stroke="#9a9a9a" stroke-width="0.6"/><rect x="756.35" y="730.59" width="7.1" height="20.41" fill="#fff" stroke="#a8a8a8" stroke-width="0.8"/><line x1="772.4" y1="654.71" x2="772.4" y2="657.98" stroke="#444" stroke-width="0.7"/><line x1="770.7" y1="654.71" x2="774.1" y2="654.71" stroke="#444" stroke-width="0.7"/><rect x="768.45" y="657.98" width="7.9" height="93.02" fill="#000"/><line x1="785.1" y1="601.47" x2="785.1" y2="605.55" stroke="#8a8a8a" stroke-width="0.7"/><line x1="783.4" y1="601.47" x2="786.8" y2="601.47" stroke="#8a8a8a" stroke-width="0.7"/><rect x="781.15" y="605.55" width="7.9" height="145.45" fill="#7d7d7d"/><path d="M760.1 721.7V641.3H772.9V647.7" fill="none" stroke="#999999" stroke-width="0.65"/><circle cx="763" cy="636.7" r="1.12" fill="#303030"/><circle cx="766.5" cy="636.7" r="1.12" fill="#303030"/><circle cx="770" cy="636.7" r="1.12" fill="#303030"/><path d="M774.7 651.3V591.9H786.6V597" fill="none" stroke="#999999" stroke-width="0.65"/><circle cx="777.15" cy="587.7" r="1.12" fill="#303030"/><circle cx="780.65" cy="587.7" r="1.12" fill="#303030"/><circle cx="784.15" cy="587.7" r="1.12" fill="#303030"/><path d="M756.4 584.6V578.2H790.6V584.6" fill="none" stroke="#999999" stroke-width="0.65"/><circle cx="770" cy="574" r="1.12" fill="#303030"/><circle cx="773.5" cy="574" r="1.12" fill="#303030"/><circle cx="777" cy="574" r="1.12" fill="#303030"/><line x1="570" y1="587.8" x2="570" y2="751.6" stroke="#1a1a1a" stroke-width="1.4"/><line x1="567.2" y1="751" x2="794.6" y2="751" stroke="#1a1a1a" stroke-width="1.3"/><line x1="567.2" y1="751" x2="570" y2="751" stroke="#1a1a1a" stroke-width="1.1"/><text x="566.2" y="753.7" font-family='"Liberation Sans", sans-serif' font-size="7.5" text-anchor="end" font-weight="400" fill="#222" stroke="#222" stroke-width="0.08">0</text><line x1="567.2" y1="710.2" x2="570" y2="710.2" stroke="#1a1a1a" stroke-width="1.1"/><text x="566.2" y="712.9" font-family='"Liberation Sans", sans-serif' font-size="7.5" text-anchor="end" font-weight="400" fill="#222" stroke="#222" stroke-width="0.08">2</text><line x1="567.2" y1="669.4" x2="570" y2="669.4" stroke="#1a1a1a" stroke-width="1.1"/><text x="566.2" y="672.1" font-family='"Liberation Sans", sans-serif' font-size="7.5" text-anchor="end" font-weight="400" fill="#222" stroke="#222" stroke-width="0.08">4</text><line x1="567.2" y1="628.6" x2="570" y2="628.6" stroke="#1a1a1a" stroke-width="1.1"/><text x="566.2" y="631.3" font-family='"Liberation Sans", sans-serif' font-size="7.5" text-anchor="end" font-weight="400" fill="#222" stroke="#222" stroke-width="0.08">6</text><line x1="567.2" y1="587.8" x2="570" y2="587.8" stroke="#1a1a1a" stroke-width="1.1"/><text x="566.2" y="590.5" font-family='"Liberation Sans", sans-serif' font-size="7.5" text-anchor="end" font-weight="400" fill="#222" stroke="#222" stroke-width="0.08">8</text><line x1="590.8" y1="751" x2="590.8" y2="754" stroke="#1a1a1a" stroke-width="1.1"/><text x="590.8" y="761.8" font-family='"Liberation Serif", serif' font-size="7.3" text-anchor="middle" font-weight="400" fill="#222" stroke="#222" stroke-width="0.12">0</text><line x1="636.2" y1="751" x2="636.2" y2="754" stroke="#1a1a1a" stroke-width="1.1"/><text x="636.2" y="761.8" font-family='"Liberation Serif", serif' font-size="7.3" text-anchor="middle" font-weight="400" fill="#222" stroke="#222" stroke-width="0.12">2</text><line x1="682" y1="751" x2="682" y2="754" stroke="#1a1a1a" stroke-width="1.1"/><text x="682" y="761.8" font-family='"Liberation Serif", serif' font-size="7.3" text-anchor="middle" font-weight="400" fill="#222" stroke="#222" stroke-width="0.12">4</text><line x1="726.8" y1="751" x2="726.8" y2="754" stroke="#1a1a1a" stroke-width="1.1"/><text x="726.8" y="761.8" font-family='"Liberation Serif", serif' font-size="7.3" text-anchor="middle" font-weight="400" fill="#222" stroke="#222" stroke-width="0.12">6</text><line x1="772.3" y1="751" x2="772.3" y2="754" stroke="#1a1a1a" stroke-width="1.1"/><text x="772.3" y="761.8" font-family='"Liberation Serif", serif' font-size="7.3" text-anchor="middle" font-weight="400" fill="#222" stroke="#222" stroke-width="0.12">8</text><text x="682.7" y="774.1" font-family='"Liberation Serif", serif' font-size="9.3" text-anchor="middle" font-weight="400" fill="#222" stroke="#222" stroke-width="0.25">hours post stimulation</text><text x="557.6" y="669.4" font-family='"Liberation Serif", serif' font-size="8.5" text-anchor="middle" font-weight="400" fill="#222" stroke="#222" stroke-width="0.25" transform="rotate(-90 557.6 669.4)">Normalized ChIL-18 mRNA</text><rect x="35.3" y="809.2" width="10.8" height="4.3" fill="#fff" stroke="#b0b0b0" stroke-width="0.9"/><text x="52.4" y="813.8" font-family='"Liberation Serif", serif' font-size="8.4" text-anchor="start" font-weight="400" fill="#1e1e1e" stroke="#1e1e1e" stroke-width="0.25">PCMV+Unstim</text><rect x="34.8" y="820.25" width="11.6" height="5" fill="#000"/><text x="52.4" y="825.25" font-family='"Liberation Serif", serif' font-size="8.4" text-anchor="start" font-weight="400" fill="#1e1e1e" stroke="#1e1e1e" stroke-width="0.25">PCMV+Stim</text><rect x="34.8" y="831.7" width="11.6" height="5" fill="#7d7d7d"/><text x="52.4" y="836.7" font-family='"Liberation Serif", serif' font-size="8.4" text-anchor="start" font-weight="400" fill="#1e1e1e" stroke="#1e1e1e" stroke-width="0.25">PCMV-ChTLR15+Stim</text><line x1="36.4" y1="1004.34" x2="36.4" y2="1004.5" stroke="#9a9a9a" stroke-width="0.6"/><line x1="34.7" y1="1004.34" x2="38.1" y2="1004.34" stroke="#9a9a9a" stroke-width="0.6"/><rect x="32.85" y="1004.9" width="7.1" height="8" fill="#fff" stroke="#a8a8a8" stroke-width="0.8"/><line x1="48.9" y1="1004.26" x2="48.9" y2="1004.5" stroke="#444" stroke-width="0.7"/><line x1="47.2" y1="1004.26" x2="50.6" y2="1004.26" stroke="#444" stroke-width="0.7"/><rect x="44.95" y="1004.5" width="7.9" height="8.4" fill="#000"/><line x1="61.6" y1="1004.75" x2="61.6" y2="1004.91" stroke="#8a8a8a" stroke-width="0.7"/><line x1="59.9" y1="1004.75" x2="63.3" y2="1004.75" stroke="#8a8a8a" stroke-width="0.7"/><rect x="57.65" y="1004.91" width="7.9" height="7.99" fill="#7d7d7d"/><line x1="82.3" y1="1004.17" x2="82.3" y2="1004.5" stroke="#9a9a9a" stroke-width="0.6"/><line x1="80.6" y1="1004.17" x2="84" y2="1004.17" stroke="#9a9a9a" stroke-width="0.6"/><rect x="78.75" y="1004.9" width="7.1" height="8" fill="#fff" stroke="#a8a8a8" stroke-width="0.8"/><line x1="94.8" y1="955.65" x2="94.8" y2="960.63" stroke="#444" stroke-width="0.7"/><line x1="93.1" y1="955.65" x2="96.5" y2="955.65" stroke="#444" stroke-width="0.7"/><rect x="90.85" y="960.63" width="7.9" height="52.27" fill="#000"/><line x1="107.5" y1="934.45" x2="107.5" y2="939.91" stroke="#8a8a8a" stroke-width="0.7"/><line x1="105.8" y1="934.45" x2="109.2" y2="934.45" stroke="#8a8a8a" stroke-width="0.7"/><rect x="103.55" y="939.91" width="7.9" height="72.99" fill="#7d7d7d"/><path d="M81.7 995.6V941.7H94.5V949.9" fill="none" stroke="#999999" stroke-width="0.65"/><circle cx="84.6" cy="938.3" r="1.12" fill="#303030"/><circle cx="88.1" cy="938.3" r="1.12" fill="#303030"/><circle cx="91.6" cy="938.3" r="1.12" fill="#303030"/><path d="M95.9 953.8V921.5H109.3V928" fill="none" stroke="#999999" stroke-width="0.65"/><circle cx="99.1" cy="917.4" r="1.12" fill="#303030"/><circle cx="102.6" cy="917.4" r="1.12" fill="#303030"/><circle cx="106.1" cy="917.4" r="1.12" fill="#303030"/><path d="M80.4 913.3V909.4H111.6V913.3" fill="none" stroke="#999999" stroke-width="0.65"/><circle cx="92.5" cy="903.5" r="1.12" fill="#303030"/><circle cx="96" cy="903.5" r="1.12" fill="#303030"/><circle cx="99.5" cy="903.5" r="1.12" fill="#303030"/><line x1="127.7" y1="1004.34" x2="127.7" y2="1004.58" stroke="#9a9a9a" stroke-width="0.6"/><line x1="126" y1="1004.34" x2="129.4" y2="1004.34" stroke="#9a9a9a" stroke-width="0.6"/><rect x="124.15" y="1004.98" width="7.1" height="7.92" fill="#fff" stroke="#a8a8a8" stroke-width="0.8"/><line x1="140.2" y1="990.47" x2="140.2" y2="990.64" stroke="#444" stroke-width="0.7"/><line x1="138.5" y1="990.47" x2="141.9" y2="990.47" stroke="#444" stroke-width="0.7"/><rect x="136.25" y="990.64" width="7.9" height="22.26" fill="#000"/><line x1="152.9" y1="971.06" x2="152.9" y2="978.32" stroke="#8a8a8a" stroke-width="0.7"/><line x1="151.2" y1="971.06" x2="154.6" y2="971.06" stroke="#8a8a8a" stroke-width="0.7"/><rect x="148.95" y="978.32" width="7.9" height="34.58" fill="#7d7d7d"/><path d="M126.5 998.3V976.1H138.6V982.8" fill="none" stroke="#999999" stroke-width="0.65"/><circle cx="129.05" cy="972.4" r="1.12" fill="#303030"/><circle cx="132.55" cy="972.4" r="1.12" fill="#303030"/><circle cx="136.05" cy="972.4" r="1.12" fill="#303030"/><path d="M141.4 988.3V958.6H152.8V965.2" fill="none" stroke="#999999" stroke-width="0.65"/><circle cx="143.6" cy="955" r="1.12" fill="#303030"/><circle cx="147.1" cy="955" r="1.12" fill="#303030"/><circle cx="150.6" cy="955" r="1.12" fill="#303030"/><path d="M124.5 951.9V945.1H156.5V951.9" fill="none" stroke="#999999" stroke-width="0.65"/><circle cx="137" cy="939.1" r="1.12" fill="#303030"/><circle cx="140.5" cy="939.1" r="1.12" fill="#303030"/><circle cx="144" cy="939.1" r="1.12" fill="#303030"/><line x1="173.2" y1="1004.34" x2="173.2" y2="1004.58" stroke="#9a9a9a" stroke-width="0.6"/><line x1="171.5" y1="1004.34" x2="174.9" y2="1004.34" stroke="#9a9a9a" stroke-width="0.6"/><rect x="169.65" y="1004.98" width="7.1" height="7.92" fill="#fff" stroke="#a8a8a8" stroke-width="0.8"/><line x1="185.7" y1="979.71" x2="185.7" y2="981.01" stroke="#444" stroke-width="0.7"/><line x1="184" y1="979.71" x2="187.4" y2="979.71" stroke="#444" stroke-width="0.7"/><rect x="181.75" y="981.01" width="7.9" height="31.89" fill="#000"/><line x1="198.4" y1="958.26" x2="198.4" y2="965.03" stroke="#8a8a8a" stroke-width="0.7"/><line x1="196.7" y1="958.26" x2="200.1" y2="958.26" stroke="#8a8a8a" stroke-width="0.7"/><rect x="194.45" y="965.03" width="7.9" height="47.87" fill="#7d7d7d"/><path d="M171.8 997.4V966.4H183.6V974.6" fill="none" stroke="#999999" stroke-width="0.65"/><circle cx="174.2" cy="961.5" r="1.12" fill="#303030"/><circle cx="177.7" cy="961.5" r="1.12" fill="#303030"/><circle cx="181.2" cy="961.5" r="1.12" fill="#303030"/><path d="M185.6 975.5V945.1H198.3V951.9" fill="none" stroke="#999999" stroke-width="0.65"/><circle cx="188.45" cy="940" r="1.12" fill="#303030"/><circle cx="191.95" cy="940" r="1.12" fill="#303030"/><circle cx="195.45" cy="940" r="1.12" fill="#303030"/><path d="M169.2 937.3V932.4H200.5V937.3" fill="none" stroke="#999999" stroke-width="0.65"/><circle cx="181.35" cy="927.3" r="1.12" fill="#303030"/><circle cx="184.85" cy="927.3" r="1.12" fill="#303030"/><circle cx="188.35" cy="927.3" r="1.12" fill="#303030"/><line x1="218.7" y1="1003.11" x2="218.7" y2="1003.68" stroke="#9a9a9a" stroke-width="0.6"/><line x1="217" y1="1003.11" x2="220.4" y2="1003.11" stroke="#9a9a9a" stroke-width="0.6"/><rect x="215.15" y="1004.08" width="7.1" height="8.82" fill="#fff" stroke="#a8a8a8" stroke-width="0.8"/><line x1="231.2" y1="923.77" x2="231.2" y2="927.76" stroke="#444" stroke-width="0.7"/><line x1="229.5" y1="923.77" x2="232.9" y2="923.77" stroke="#444" stroke-width="0.7"/><rect x="227.25" y="927.76" width="7.9" height="85.14" fill="#000"/><line x1="243.9" y1="882.26" x2="243.9" y2="891.88" stroke="#8a8a8a" stroke-width="0.7"/><line x1="242.2" y1="882.26" x2="245.6" y2="882.26" stroke="#8a8a8a" stroke-width="0.7"/><rect x="239.95" y="891.88" width="7.9" height="121.02" fill="#7d7d7d"/><path d="M219.1 992.8V912.4H230V920" fill="none" stroke="#999999" stroke-width="0.65"/><circle cx="221.05" cy="908.2" r="1.12" fill="#303030"/><circle cx="224.55" cy="908.2" r="1.12" fill="#303030"/><circle cx="228.05" cy="908.2" r="1.12" fill="#303030"/><path d="M231.8 922.8V870.9H244.5V878.2" fill="none" stroke="#999999" stroke-width="0.65"/><circle cx="234.65" cy="866.4" r="1.12" fill="#303030"/><circle cx="238.15" cy="866.4" r="1.12" fill="#303030"/><circle cx="241.65" cy="866.4" r="1.12" fill="#303030"/><path d="M215.4 866.9V859.1H248.7V866.9" fill="none" stroke="#999999" stroke-width="0.65"/><circle cx="228.55" cy="855.5" r="1.12" fill="#303030"/><circle cx="232.05" cy="855.5" r="1.12" fill="#303030"/><circle cx="235.55" cy="855.5" r="1.12" fill="#303030"/><line x1="28" y1="849.8" x2="28" y2="1013.5" stroke="#1a1a1a" stroke-width="1.4"/><line x1="25.2" y1="1012.9" x2="252.6" y2="1012.9" stroke="#1a1a1a" stroke-width="1.3"/><line x1="25.2" y1="1012.9" x2="28" y2="1012.9" stroke="#1a1a1a" stroke-width="1.1"/><text x="24.2" y="1015.6" font-family='"Liberation Sans", sans-serif' font-size="7.5" text-anchor="end" font-weight="400" fill="#222" stroke="#222" stroke-width="0.08">0</text><line x1="25.2" y1="972.12" x2="28" y2="972.12" stroke="#1a1a1a" stroke-width="1.1"/><text x="24.2" y="974.83" font-family='"Liberation Sans", sans-serif' font-size="7.5" text-anchor="end" font-weight="400" fill="#222" stroke="#222" stroke-width="0.08">5</text><line x1="25.2" y1="931.35" x2="28" y2="931.35" stroke="#1a1a1a" stroke-width="1.1"/><text x="24.2" y="934.05" font-family='"Liberation Sans", sans-serif' font-size="7.5" text-anchor="end" font-weight="400" fill="#222" stroke="#222" stroke-width="0.08">10</text><line x1="25.2" y1="890.57" x2="28" y2="890.57" stroke="#1a1a1a" stroke-width="1.1"/><text x="24.2" y="893.27" font-family='"Liberation Sans", sans-serif' font-size="7.5" text-anchor="end" font-weight="400" fill="#222" stroke="#222" stroke-width="0.08">15</text><line x1="25.2" y1="849.8" x2="28" y2="849.8" stroke="#1a1a1a" stroke-width="1.1"/><text x="24.2" y="852.5" font-family='"Liberation Sans", sans-serif' font-size="7.5" text-anchor="end" font-weight="400" fill="#222" stroke="#222" stroke-width="0.08">20</text><line x1="48.8" y1="1012.9" x2="48.8" y2="1015.9" stroke="#1a1a1a" stroke-width="1.1"/><text x="48.8" y="1023.7" font-family='"Liberation Serif", serif' font-size="7.3" text-anchor="middle" font-weight="400" fill="#222" stroke="#222" stroke-width="0.12">0</text><line x1="94.7" y1="1012.9" x2="94.7" y2="1015.9" stroke="#1a1a1a" stroke-width="1.1"/><text x="94.7" y="1023.7" font-family='"Liberation Serif", serif' font-size="7.3" text-anchor="middle" font-weight="400" fill="#222" stroke="#222" stroke-width="0.12">2</text><line x1="140.1" y1="1012.9" x2="140.1" y2="1015.9" stroke="#1a1a1a" stroke-width="1.1"/><text x="140.1" y="1023.7" font-family='"Liberation Serif", serif' font-size="7.3" text-anchor="middle" font-weight="400" fill="#222" stroke="#222" stroke-width="0.12">4</text><line x1="185.6" y1="1012.9" x2="185.6" y2="1015.9" stroke="#1a1a1a" stroke-width="1.1"/><text x="185.6" y="1023.7" font-family='"Liberation Serif", serif' font-size="7.3" text-anchor="middle" font-weight="400" fill="#222" stroke="#222" stroke-width="0.12">6</text><line x1="231.1" y1="1012.9" x2="231.1" y2="1015.9" stroke="#1a1a1a" stroke-width="1.1"/><text x="231.1" y="1023.7" font-family='"Liberation Serif", serif' font-size="7.3" text-anchor="middle" font-weight="400" fill="#222" stroke="#222" stroke-width="0.12">8</text><text x="140.7" y="1036" font-family='"Liberation Serif", serif' font-size="9.3" text-anchor="middle" font-weight="400" fill="#222" stroke="#222" stroke-width="0.25">hours post stimulation</text><text x="12.4" y="931.35" font-family='"Liberation Serif", serif' font-size="8.5" text-anchor="middle" font-weight="400" fill="#222" stroke="#222" stroke-width="0.25" transform="rotate(-90 12.4 931.35)">Normalized ChIL-1&#946; mRNA</text></svg></body></html>
